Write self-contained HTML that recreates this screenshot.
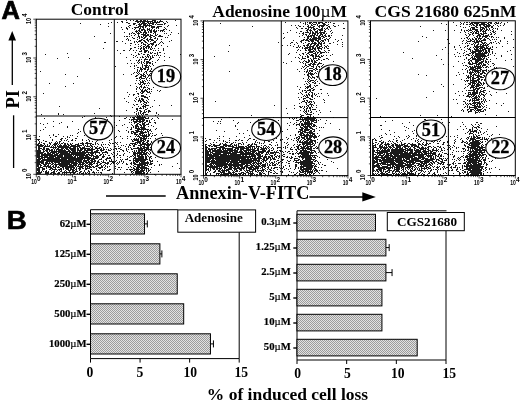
<!DOCTYPE html><html><head><meta charset="utf-8"><style>html,body{margin:0;padding:0;background:#fff}svg{display:block;filter:grayscale(1)}text{font-family:"Liberation Serif",serif;font-weight:bold;fill:#000}.s{font-family:"Liberation Sans",sans-serif}.t{font-family:"Liberation Sans",sans-serif;font-weight:bold;font-size:7.8px;fill:#000}</style></head><body><svg width="520" height="402" viewBox="0 0 520 402"><defs><pattern id="h" width="2" height="2" patternUnits="userSpaceOnUse"><rect width="2" height="2" fill="#e2e2e2"/><rect width="1" height="1" fill="#9c9c9c"/><rect x="1" y="1" width="1" height="1" fill="#9c9c9c"/></pattern></defs><rect width="520" height="402" fill="#fff"/><text x="1.4" y="19.1" font-size="25.2" textLength="18.4" lengthAdjust="spacingAndGlyphs" class="s" stroke="#000" stroke-width="0.7">A</text><text x="6.7" y="228.7" font-size="25.2" textLength="20" lengthAdjust="spacingAndGlyphs" class="s" stroke="#000" stroke-width="0.6">B</text><text x="70.8" y="14.9" font-size="17.6" textLength="57.7" lengthAdjust="spacingAndGlyphs">Control</text><text x="212.3" y="16.7" font-size="17.6" textLength="134.7" lengthAdjust="spacingAndGlyphs">Adenosine 100<tspan font-weight="normal">µ</tspan>M</text><text x="374.5" y="17.1" font-size="17.6" textLength="141.8" lengthAdjust="spacingAndGlyphs">CGS 21680 625nM</text><text transform="translate(18.9,99.4) rotate(-90)" font-size="18.3" text-anchor="middle">PI</text><path d="M12.3 85V39" stroke="#000" stroke-width="1.3" fill="none"/><path d="M12.2 31L8.4 40.5H16Z" fill="#000"/><path d="M13.6 115.3V168" stroke="#000" stroke-width="1.3" fill="none"/><text x="176" y="199.4" font-size="17.9" textLength="133.4" lengthAdjust="spacingAndGlyphs">Annexin-V-FITC</text><path d="M106 196H165.7" stroke="#000" stroke-width="1.5"/><path d="M309.4 196.9H363" stroke="#000" stroke-width="1.5"/><path d="M375.8 196.9L362.3 192.2V201.6Z" fill="#000"/><path d="M65 162h1M90 160h1M87 154h1M54 159h1M58 167h1M54 155h1M75 151h1M63 167h1M78 159h1M38 156h1M94 173h1M62 159h1M77 156h1M61 160h1M57 155h1M73 159h1M80 159h1M60 153h1M61 156h1M77 160h1M47 160h1M39 162h1M72 163h1M51 159h1M38 161h1M49 155h1M55 156h1M41 165h1M38 143h1M65 160h1M81 173h1M60 144h1M50 168h1M71 144h1M78 160h1M58 169h1M74 168h1M84 150h1M60 147h1M49 146h1M71 162h1M69 154h1M85 157h1M40 159h1M51 160h1M48 161h1M38 158h1M66 145h1M50 137h1M90 166h1M80 152h1M76 155h1M72 153h1M82 154h1M39 157h1M75 149h1M38 163h1M71 153h1M59 167h1M79 156h1M56 152h1M64 160h1M71 163h1M47 150h1M75 155h1M62 167h1M73 149h1M54 150h1M85 158h1M75 148h1M61 139h1M76 144h1M88 160h1M98 162h1M81 160h1M73 148h1M62 162h1M45 165h1M88 152h1M40 164h1M75 154h1M89 158h1M38 160h1M58 146h1M39 168h1M69 150h1M93 156h1M102 153h1M39 160h1M53 160h1M77 157h1M94 167h1M72 159h1M50 154h1M70 135h1M64 155h1M60 155h1M50 150h1M71 150h1M70 161h1M62 165h1M60 171h1M40 165h1M55 152h1M87 159h1M38 162h1M89 159h1M74 152h1M104 156h1M65 155h1M38 167h1M89 173h1M113 163h1M48 165h1M52 158h1M48 173h1M59 154h1M57 160h1M68 156h1M85 161h1M64 156h1M81 161h1M56 147h1M70 156h1M38 149h1M79 152h1M53 167h1M75 160h1M74 165h1M89 140h1M79 158h1M83 147h1M62 147h1M50 166h1M55 146h1M43 149h1M54 152h1M62 156h1M69 147h1M58 172h1M63 154h1M68 153h1M85 173h1M75 172h1M52 153h1M50 159h1M102 166h1M78 148h1M99 152h1M104 167h1M48 152h1M71 154h1M73 147h1M74 162h1M68 151h1M67 147h1M38 152h1M61 170h1M50 158h1M66 152h1M55 158h1M76 160h1M80 158h1M70 143h1M70 159h1M66 155h1M55 163h1M61 147h1M55 164h1M64 144h1M75 166h1M39 153h1M81 159h1M50 155h1M50 165h1M60 165h1M53 165h1M70 162h1M53 144h1M44 144h1M48 158h1M89 149h1M42 158h1M64 146h1M98 148h1M37 150h1M73 155h1M37 166h1M70 149h1M83 152h1M73 168h1M69 163h1M82 158h1M67 139h1M62 158h1M76 152h1M46 171h1M79 157h1M43 148h1M71 149h1M96 151h1M82 152h1M77 159h1M62 164h1M66 146h1M68 158h1M44 168h1M51 155h1M38 159h1M38 150h1M46 160h1M96 152h1M64 153h1M85 156h1M59 161h1M38 148h1M67 163h1M72 154h1M56 171h1M70 167h1M75 153h1M39 173h1M60 161h1M57 153h1M83 156h1M97 163h1M56 161h1M77 150h1M82 166h1M84 149h1M57 164h1M78 155h1M102 162h1M52 159h1M88 159h1M71 145h1M53 158h1M93 138h1M40 156h1M87 148h1M71 168h1M42 168h1M56 151h1M37 152h1M51 156h1M69 158h1M76 138h1M67 161h1M60 164h1M86 154h1M67 165h1M70 160h1M74 154h1M44 165h1M51 162h1M93 153h1M70 144h1M59 152h1M55 155h1M69 170h1M51 158h1M39 159h1M89 150h1M54 156h1M60 139h1M57 143h1M67 162h1M42 153h1M72 156h1M133 145h1M40 152h1M58 157h1M37 168h1M42 156h1M73 154h1M63 165h1M95 144h1M51 161h1M67 148h1M119 151h1M49 151h1M47 157h1M63 157h1M63 159h1M66 167h1M50 169h1M68 162h1M114 162h1M88 154h1M61 161h1M76 163h1M61 143h1M101 173h1M82 147h1M81 157h1M68 164h1M63 146h1M70 152h1M89 141h1M74 146h1M57 142h1M88 157h1M68 159h1M49 166h1M52 156h1M38 155h1M83 154h1M60 166h1M84 158h1M71 155h1M37 161h1M60 154h1M74 159h1M95 156h1M99 167h1M91 165h1M42 146h1M37 155h1M75 162h1M65 153h1M82 163h1M68 161h1M56 160h1M71 146h1M73 150h1M62 149h1M70 169h1M64 159h1M74 158h1M54 153h1M53 151h1M62 154h1M83 168h1M71 158h1M53 157h1M66 156h1M69 157h1M76 168h1M40 172h1M53 148h1M94 162h1M72 152h1M72 139h1M55 161h1M71 156h1M94 156h1M71 157h1M72 158h1M71 172h1M74 163h1M49 159h1M78 150h1M63 151h1M54 160h1M92 162h1M83 160h1M76 159h1M62 138h1M56 164h1M59 156h1M82 159h1M66 165h1M38 153h1M63 164h1M41 154h1M63 152h1M78 154h1M105 159h1M37 172h1M51 142h1M61 145h1M89 157h1M50 152h1M59 143h1M39 158h1M57 151h1M82 165h1M38 165h1M56 150h1M67 154h1M84 157h1M90 162h1M55 144h1M50 156h1M73 171h1M57 156h1M58 158h1M96 148h1M69 164h1M60 159h1M75 158h1M37 162h1M64 163h1M44 143h1M109 160h1M78 152h1M67 158h1M60 152h1M78 164h1M95 157h1M77 155h1M78 157h1M37 157h1M82 139h1M90 150h1M68 155h1M63 162h1M79 167h1M66 171h1M40 161h1M83 153h1M56 153h1M38 168h1M62 155h1M46 156h1M70 166h1M42 170h1M84 146h1M53 171h1M87 157h1M68 160h1M40 166h1M86 155h1M58 152h1M69 137h1M44 147h1M45 159h1M48 163h1M71 140h1M50 157h1M78 132h1M79 161h1M84 135h1M59 163h1M40 158h1M91 164h1M61 158h1M38 147h1M75 161h1M88 158h1M84 171h1M80 157h1M38 157h1M49 153h1M85 152h1M68 169h1M64 171h1M46 150h1M47 166h1M47 151h1M73 172h1M70 157h1M75 165h1M84 148h1M53 166h1M38 154h1M54 172h1M83 163h1M84 153h1M65 156h1M60 168h1M57 158h1M89 167h1M52 164h1M64 162h1M73 163h1M48 172h1M67 155h1M46 162h1M39 148h1M41 161h1M47 153h1M61 163h1M45 157h1M68 149h1M96 166h1M88 150h1M43 150h1M79 155h1M42 163h1M89 148h1M39 143h1M79 170h1M94 159h1M49 156h1M69 156h1M73 165h1M72 161h1M107 166h1M66 158h1M58 163h1M76 169h1M95 151h1M41 157h1M75 157h1M39 169h1M95 158h1M101 159h1M46 166h1M97 148h1M65 152h1M61 154h1M93 158h1M70 154h1M93 171h1M81 156h1M37 163h1M67 164h1M44 158h1M61 162h1M40 151h1M45 145h1M62 151h1M60 149h1M87 167h1M63 160h1M60 151h1M74 156h1M55 151h1M57 145h1M73 162h1M62 173h1M52 151h1M63 158h1M107 157h1M92 154h1M41 145h1M110 164h1M37 139h1M83 161h1M39 139h1M85 166h1M37 145h1M92 166h1M49 145h1M43 143h1M80 148h1M80 156h1M41 153h1M79 153h1M66 153h1M56 155h1M69 159h1M59 149h1M77 147h1M40 162h1M97 151h1M58 160h1M42 161h1M90 163h1M96 168h1M60 150h1M47 172h1M51 151h1M58 147h1M94 172h1M71 169h1M67 157h1M81 154h1M57 157h1M66 163h1M110 157h1M72 148h1M60 163h1M103 144h1M64 151h1M43 166h1M47 159h1M70 165h1M62 157h1M49 142h1M53 134h1M86 142h1M103 154h1M53 156h1M92 158h1M89 165h1M61 151h1M73 152h1M77 158h1M65 154h1M87 163h1M90 149h1M44 156h1M91 152h1M67 149h1M58 155h1M100 149h1M83 157h1M66 162h1M61 165h1M54 149h1M80 171h1M46 155h1M57 167h1M53 169h1M50 147h1M78 166h1M51 164h1M46 170h1M68 154h1M58 161h1M59 142h1M68 170h1M95 161h1M65 145h1M53 153h1M38 166h1M87 149h1M47 173h1M43 169h1M77 161h1M44 146h1M39 151h1M41 146h1M44 169h1M111 161h1M40 145h1M88 170h1M86 152h1M45 153h1M58 162h1M49 149h1M87 152h1M57 148h1M105 162h1M99 147h1M77 151h1M39 154h1M77 163h1M69 162h1M46 168h1M77 145h1M62 146h1M86 140h1M47 163h1M38 140h1M73 146h1M81 155h1M73 145h1M82 156h1M76 154h1M73 161h1M113 161h1M84 165h1M101 151h1M65 157h1M84 160h1M96 165h1M41 163h1M85 149h1M59 146h1M45 155h1M64 166h1M47 165h1M75 147h1M92 161h1M82 155h1M69 160h1M66 172h1M63 166h1M86 165h1M74 148h1M62 166h1M59 157h1M105 154h1M52 157h1M69 172h1M73 158h1M83 148h1M64 152h1M41 155h1M69 151h1M42 149h1M46 149h1M63 153h1M91 156h1M75 144h1M91 159h1M38 146h1M56 154h1M88 162h1M105 144h1M39 161h1M111 153h1M94 158h1M80 161h1M110 150h1M55 162h1M67 152h1M73 151h1M71 165h1M71 152h1M44 154h1M89 155h1M81 149h1M37 153h1M49 157h1M52 149h1M39 152h1M43 151h1M66 164h1M76 167h1M48 154h1M52 147h1M49 158h1M80 153h1M46 154h1M66 148h1M66 161h1M91 154h1M79 169h1M81 164h1M87 156h1M78 149h1M40 153h1M57 159h1M83 162h1M50 173h1M72 157h1M61 149h1M82 164h1M74 157h1M61 166h1M90 153h1M50 161h1M88 143h1M59 147h1M76 162h1M64 143h1M46 151h1M105 168h1M61 152h1M69 171h1M85 155h1M38 164h1M68 167h1M74 164h1M68 166h1M38 144h1M45 160h1M78 158h1M72 162h1M37 165h1M38 172h1M52 161h1M53 161h1M71 164h1M47 158h1M65 146h1M59 158h1M57 161h1M75 159h1M65 150h1M108 149h1M80 172h1M38 151h1M38 139h1M58 156h1M67 153h1M78 145h1M62 150h1M109 155h1M91 150h1M84 155h1M54 147h1M91 151h1M93 149h1M56 158h1M42 155h1M42 157h1M60 160h1M68 147h1M66 140h1M64 140h1M73 160h1M59 159h1M82 157h1M68 146h1M99 159h1M58 164h1M76 170h1M71 160h1M79 145h1M88 171h1M119 148h1M45 164h1M68 144h1M92 148h1M51 173h1M50 153h1M101 145h1M84 152h1M61 159h1M64 161h1M61 138h1M77 136h1M82 149h1M45 173h1M59 151h1M69 152h1M70 155h1M45 154h1M52 162h1M67 169h1M65 163h1M47 149h1M52 172h1M66 159h1M73 167h1M80 151h1M61 164h1M91 155h1M72 150h1M70 170h1M84 151h1M65 143h1M78 162h1M111 160h1M91 158h1M90 144h1M80 147h1M75 140h1M54 171h1M55 168h1M59 160h1M56 162h1M74 167h1M59 155h1M55 136h1M43 157h1M37 156h1M55 160h1M48 164h1M41 160h1M63 147h1M60 156h1M49 150h1M89 134h1M96 157h1M54 161h1M101 172h1M73 157h1M79 151h1M97 162h1M66 169h1M71 159h1M52 168h1M57 154h1M111 163h1M56 159h1M51 149h1M53 135h1M39 167h1M70 158h1M41 142h1M63 142h1M50 160h1M55 147h1M77 154h1M39 156h1M47 152h1M43 147h1M61 155h1M78 143h1M103 165h1M98 156h1M53 155h1M65 151h1M81 145h1M43 155h1M75 163h1M64 164h1M75 150h1M101 167h1M63 148h1M63 163h1M91 163h1M70 148h1M48 167h1M61 140h1M70 151h1M63 145h1M56 165h1M47 148h1M39 150h1M47 162h1M105 151h1M62 152h1M59 173h1M56 157h1M99 153h1M46 157h1M49 160h1M85 164h1M94 151h1M54 151h1M60 145h1M37 154h1M86 148h1M55 148h1M65 159h1M83 151h1M59 170h1M38 171h1M85 160h1M67 166h1M58 148h1M47 154h1M39 142h1M61 146h1M43 160h1M77 166h1M72 135h1M78 153h1M56 149h1M58 166h1M79 164h1M69 153h1M87 142h1M88 153h1M70 172h1M89 161h1M86 163h1M51 157h1M37 159h1M106 158h1M45 163h1M76 153h1M96 150h1M54 143h1M65 161h1M57 149h1M59 150h1M95 147h1M87 160h1M87 146h1M43 162h1M43 159h1M42 154h1M52 160h1M89 162h1M75 152h1M44 159h1M66 160h1M67 156h1M44 160h1M55 145h1M84 154h1M76 164h1M37 151h1M41 152h1M54 154h1M76 146h1M92 153h1M90 164h1M86 173h1M76 161h1M109 157h1M91 149h1M96 156h1M59 165h1M97 140h1M90 167h1M47 161h1M79 150h1M55 166h1M76 171h1M91 162h1M64 150h1M100 163h1M71 167h1M47 156h1M90 155h1M73 170h1M74 170h1M37 170h1M42 152h1M46 163h1M48 146h1M77 153h1M67 137h1M75 164h1M63 150h1M68 141h1M51 152h1M84 159h1M56 144h1M55 154h1M72 140h1M79 173h1M97 161h1M79 160h1M65 148h1M48 149h1M64 165h1M87 162h1M61 169h1M86 156h1M80 150h1M114 146h1M80 166h1M83 158h1M68 168h1M80 165h1M48 157h1M72 151h1M41 162h1M51 167h1M68 150h1M44 148h1M55 142h1M70 147h1M67 160h1M94 149h1M41 167h1M64 149h1M64 154h1M46 159h1M77 149h1M58 150h1M92 137h1M76 165h1M72 165h1M40 167h1M72 167h1M42 159h1M100 164h1M58 159h1M84 147h1M41 158h1M43 164h1M98 157h1M65 158h1M76 158h1M45 150h1M58 149h1M95 154h1M56 141h1M88 164h1M80 154h1M62 161h1M93 161h1M90 157h1M51 150h1M52 155h1M77 173h1M61 157h1M42 160h1M74 173h1M44 166h1M118 163h1M63 169h1M39 141h1M65 147h1M46 146h1M39 149h1M56 143h1M52 154h1M69 148h1M96 158h1M67 143h1M82 167h1M43 161h1M74 153h1M41 156h1M87 165h1M82 151h1M66 157h1M69 165h1M103 155h1M74 149h1M45 141h1M48 155h1M79 172h1M52 152h1M64 157h1M56 136h1M122 159h1M40 150h1M45 156h1M44 157h1M59 169h1M54 167h1M93 163h1M69 166h1M49 169h1M38 169h1M46 167h1M48 159h1M48 153h1M39 146h1M85 168h1M100 154h1M44 151h1M68 163h1M81 150h1M103 147h1M70 164h1M65 170h1M94 161h1M83 155h1M79 168h1M50 144h1M94 152h1M86 168h1M51 146h1M79 162h1M65 164h1M89 164h1M62 153h1M41 148h1M107 170h1M75 146h1M93 159h1M87 151h1M54 145h1M69 145h1M71 148h1M60 157h1M44 164h1M73 153h1M80 164h1M79 147h1M72 149h1M86 150h1M53 159h1M63 161h1M62 148h1M114 155h1M85 162h1M89 152h1M39 136h1M66 166h1M65 166h1M104 149h1M82 140h1M58 153h1M66 154h1M63 136h1M96 169h1M88 146h1M50 163h1M67 146h1M39 163h1M114 153h1M92 160h1M85 148h1M65 167h1M79 159h1M103 149h1M46 141h1M100 159h1M86 162h1M73 169h1M86 166h1M118 146h1M82 148h1M79 163h1M106 149h1M69 161h1M87 155h1M80 145h1M49 154h1M85 153h1M74 160h1M62 172h1M96 172h1M53 147h1M77 152h1M94 146h1M66 173h1M88 156h1M66 151h1M85 167h1M78 165h1M64 158h1M86 160h1M67 151h1M97 164h1M39 155h1M44 155h1M48 171h1M60 146h1M49 163h1M67 136h1M57 162h1M54 173h1M116 149h1M90 147h1M52 163h1M74 147h1M60 141h1M98 172h1M82 144h1M46 164h1M38 145h1M83 166h1M72 166h1M47 155h1M54 169h1M87 158h1M69 155h1M43 140h1M62 163h1M39 145h1M85 145h1M80 160h1M54 158h1M56 166h1M81 166h1M55 173h1M59 162h1M110 169h1M68 157h1M70 168h1M55 159h1M87 145h1M42 145h1M38 170h1M51 170h1M88 173h1M62 160h1M55 165h1M85 172h1M43 154h1M45 172h1M72 145h1M55 157h1M37 169h1M58 173h1M74 150h1M53 172h1M66 147h1M78 168h1M52 150h1M80 162h1M43 152h1M46 172h1M72 169h1M77 144h1M65 144h1M93 144h1M67 172h1M113 143h1M81 153h1M70 146h1M53 152h1M37 173h1M81 143h1M108 155h1M40 173h1M53 163h1M81 158h1M57 146h1M52 145h1M80 155h1M80 163h1M40 144h1M43 171h1M90 143h1M82 173h1M41 172h1M73 164h1M95 143h1M50 143h1M61 171h1M53 146h1M39 164h1M78 161h1M91 161h1M98 152h1M83 164h1M51 172h1M86 143h1M92 172h1M98 161h1M70 173h1M98 170h1M47 145h1M54 164h1M41 144h1M48 166h1M39 147h1M87 172h1M52 169h1M88 166h1M61 148h1M55 169h1M99 164h1M100 147h1M53 173h1M52 166h1M44 149h1M103 150h1M94 163h1M51 168h1M39 171h1M92 159h1M132 173h1M92 149h1M85 169h1M93 155h1M80 169h1M74 172h1M82 168h1M75 169h1M93 172h1M73 173h1M62 143h1M51 147h1M72 160h1M58 144h1M97 146h1M66 149h1M86 169h1M59 172h1M72 146h1M67 167h1M78 146h1M79 154h1M83 172h1M87 143h1M81 152h1M120 147h1M64 173h1M44 153h1M84 170h1M103 157h1M85 143h1M91 146h1M73 166h1M61 153h1M72 172h1M46 148h1M105 152h1M42 167h1M50 167h1M42 169h1M40 148h1M61 150h1M79 146h1M60 169h1M56 169h1M74 151h1M68 172h1M71 166h1M41 171h1M81 171h1M59 145h1M98 160h1M47 144h1M80 143h1M91 169h1M66 168h1M81 162h1M39 170h1M45 166h1M40 146h1M80 167h1M43 168h1M48 148h1M87 166h1M64 147h1M61 168h1M45 162h1M38 173h1M77 146h1M87 144h1M54 170h1M81 167h1M98 165h1M101 158h1M83 145h1M65 165h1M115 146h1M49 161h1M97 165h1M37 164h1M92 147h1M81 148h1M64 172h1M42 162h1M84 163h1M83 173h1M77 148h1M48 160h1M37 144h1M49 167h1M72 171h1M100 167h1M43 163h1M64 145h1M45 171h1M67 144h1M98 150h1M71 161h1M84 161h1M87 168h1M63 168h1M49 143h1M47 146h1M101 161h1M83 144h1M54 162h1M101 144h1M75 145h1M103 152h1M46 173h1M112 162h1M68 145h1M99 148h1M77 171h1M111 149h1M59 164h1M55 167h1M78 144h1M80 149h1M72 170h1M57 173h1M120 149h1M46 161h1M57 170h1M43 145h1M110 148h1M39 172h1M74 145h1M58 151h1M75 156h1M75 171h1M45 146h1M82 143h1M103 161h1M97 166h1M65 172h1M101 148h1M63 172h1M37 160h1M55 143h1M67 168h1M65 168h1M54 144h1M89 171h1M51 154h1M91 143h1M69 167h1M49 162h1M72 143h1M79 166h1M95 148h1M97 150h1M109 145h1M92 155h1M107 152h1M146 163h1M108 150h1M108 158h1M86 158h1M107 147h1M113 152h1M96 163h1M106 151h1M82 153h1M104 162h1M92 151h1M111 159h1M109 140h1M139 142h1M118 130h1M117 157h1M117 151h1M124 153h1M88 148h1M102 167h1M107 163h1M106 152h1M112 173h1M105 165h1M85 165h1M92 150h1M102 142h1M95 152h1M95 142h1M99 168h1M80 168h1M83 143h1M113 149h1M89 154h1M86 161h1M97 152h1M99 155h1M115 161h1M97 155h1M103 156h1M89 146h1M109 142h1M112 161h1M107 167h1M120 169h1M104 164h1M103 148h1M106 159h1M95 153h1M109 170h1M88 161h1M82 162h1M93 129h1M109 169h1M129 157h1M101 163h1M92 146h1M96 155h1M104 152h1M89 143h1M110 161h1M113 162h1M115 142h1M115 148h1M86 151h1M119 162h1M105 147h1M92 152h1M108 170h1M102 146h1M100 172h1M103 160h1M109 158h1M87 150h1M120 157h1M96 141h1M91 148h1M102 150h1M86 157h1M117 154h1M89 172h1M132 143h1M91 170h1M126 150h1M102 156h1M89 166h1M88 149h1M129 160h1M97 158h1M92 164h1M116 160h1M91 160h1M89 163h1M82 142h1M93 152h1M92 141h1M91 167h1M89 168h1M117 142h1M88 139h1M114 157h1M97 157h1M109 161h1M102 157h1M110 143h1M86 146h1M97 149h1M101 149h1M98 144h1M85 150h1M116 143h1M122 163h1M101 165h1M108 144h1M88 168h1M97 170h1M91 153h1M93 131h1M102 152h1M142 149h1M140 140h1M133 159h1M127 136h1M142 173h1M135 139h1M146 124h1M136 168h1M141 159h1M144 149h1M143 124h1M140 165h1M152 135h1M140 131h1M143 160h1M139 169h1M146 168h1M156 134h1M147 173h1M142 166h1M146 129h1M135 172h1M139 129h1M144 163h1M129 144h1M132 133h1M156 140h1M142 116h1M126 169h1M140 127h1M148 131h1M161 155h1M139 154h1M133 168h1M141 152h1M130 163h1M140 146h1M137 124h1M147 163h1M137 129h1M140 160h1M148 140h1M129 122h1M136 150h1M122 138h1M149 134h1M137 141h1M140 159h1M142 154h1M145 159h1M144 143h1M141 144h1M146 156h1M143 166h1M151 142h1M139 124h1M145 156h1M145 157h1M138 136h1M136 117h1M146 147h1M150 138h1M139 162h1M147 152h1M140 150h1M143 125h1M145 155h1M127 127h1M139 155h1M150 147h1M136 120h1M144 170h1M148 162h1M149 145h1M136 138h1M147 121h1M138 130h1M141 132h1M137 173h1M134 138h1M138 135h1M139 157h1M132 119h1M148 148h1M149 159h1M147 131h1M141 154h1M138 153h1M141 155h1M141 151h1M143 121h1M143 146h1M142 120h1M137 126h1M133 167h1M142 138h1M140 135h1M144 173h1M137 155h1M142 131h1M143 137h1M143 154h1M143 172h1M154 165h1M145 132h1M140 122h1M141 156h1M141 164h1M141 125h1M141 166h1M141 127h1M146 167h1M154 135h1M143 171h1M143 139h1M148 133h1M133 161h1M142 150h1M143 144h1M144 124h1M137 170h1M138 160h1M133 117h1M138 145h1M131 139h1M145 150h1M140 129h1M135 140h1M148 150h1M141 170h1M136 148h1M133 132h1M138 172h1M131 122h1M141 117h1M148 141h1M132 144h1M144 127h1M142 143h1M145 162h1M139 131h1M147 162h1M141 172h1M140 167h1M143 150h1M139 165h1M139 137h1M138 171h1M136 171h1M137 119h1M134 133h1M143 135h1M142 152h1M131 171h1M138 173h1M141 126h1M135 159h1M143 126h1M138 157h1M136 128h1M152 145h1M141 158h1M152 163h1M148 170h1M141 141h1M141 173h1M136 173h1M130 147h1M140 142h1M144 123h1M141 140h1M135 136h1M133 118h1M131 120h1M149 144h1M144 169h1M139 148h1M137 123h1M133 170h1M142 122h1M136 162h1M139 171h1M145 147h1M143 133h1M134 146h1M142 129h1M143 148h1M143 142h1M141 133h1M143 117h1M137 136h1M142 156h1M136 122h1M138 151h1M137 142h1M143 118h1M138 161h1M145 149h1M137 168h1M142 167h1M152 118h1M146 152h1M136 172h1M135 134h1M137 143h1M131 164h1M130 160h1M144 153h1M143 173h1M140 170h1M148 156h1M142 161h1M137 171h1M135 169h1M136 161h1M140 137h1M141 150h1M158 147h1M138 159h1M144 172h1M141 130h1M142 124h1M150 152h1M139 122h1M144 146h1M146 134h1M137 140h1M126 163h1M138 129h1M150 130h1M147 118h1M143 119h1M147 144h1M134 118h1M137 132h1M142 162h1M133 158h1M142 118h1M141 135h1M135 153h1M138 128h1M142 132h1M135 133h1M137 172h1M148 168h1M154 174h1M131 148h1M151 161h1M142 128h1M137 159h1M145 158h1M143 140h1M146 121h1M136 125h1M127 164h1M144 162h1M177 163h1M145 151h1M139 156h1M141 148h1M146 142h1M150 169h1M147 143h1M149 170h1M138 149h1M139 164h1M138 117h1M148 135h1M138 147h1M133 162h1M141 121h1M147 140h1M143 123h1M157 151h1M130 117h1M144 147h1M155 135h1M141 137h1M142 157h1M139 141h1M136 127h1M142 134h1M144 134h1M150 160h1M150 150h1M140 141h1M141 153h1M148 169h1M147 165h1M148 134h1M137 131h1M151 167h1M139 145h1M135 152h1M139 173h1M137 139h1M138 141h1M146 120h1M137 169h1M138 155h1M154 152h1M149 135h1M148 124h1M129 119h1M131 124h1M150 129h1M142 158h1M126 149h1M158 118h1M139 158h1M130 166h1M143 127h1M136 153h1M148 136h1M146 157h1M140 125h1M144 164h1M141 157h1M142 171h1M150 143h1M136 140h1M128 131h1M139 143h1M133 127h1M136 160h1M148 171h1M143 161h1M140 148h1M146 153h1M142 136h1M150 144h1M136 164h1M136 151h1M144 144h1M147 149h1M131 119h1M142 164h1M144 132h1M141 129h1M137 147h1M148 149h1M137 117h1M149 149h1M137 134h1M134 134h1M161 133h1M134 164h1M134 132h1M146 162h1M135 144h1M130 145h1M136 130h1M144 125h1M145 143h1M131 133h1M136 126h1M161 153h1M140 153h1M144 126h1M144 141h1M145 117h1M138 166h1M136 169h1M136 131h1M152 160h1M140 134h1M148 166h1M136 170h1M142 121h1M144 137h1M152 161h1M137 152h1M143 136h1M138 165h1M139 118h1M145 153h1M148 123h1M139 152h1M137 121h1M141 162h1M123 161h1M144 154h1M146 173h1M144 167h1M151 136h1M144 138h1M138 140h1M139 133h1M140 139h1M144 145h1M133 172h1M137 148h1M161 164h1M136 132h1M131 132h1M135 126h1M146 145h1M134 162h1M141 119h1M150 133h1M150 172h1M135 164h1M146 135h1M137 161h1M136 144h1M149 151h1M154 120h1M130 129h1M136 121h1M146 118h1M147 147h1M156 155h1M133 119h1M126 130h1M131 127h1M145 144h1M138 156h1M155 122h1M144 116h1M143 170h1M137 116h1M138 158h1M139 119h1M145 160h1M140 152h1M147 142h1M139 150h1M135 119h1M121 145h1M148 144h1M145 136h1M143 147h1M140 121h1M142 127h1M135 148h1M149 154h1M144 136h1M146 154h1M147 155h1M141 145h1M140 132h1M140 124h1M131 131h1M142 168h1M149 120h1M142 135h1M151 163h1M143 132h1M143 162h1M132 141h1M155 129h1M139 121h1M145 165h1M140 147h1M132 155h1M145 138h1M146 171h1M135 166h1M127 138h1M135 130h1M136 124h1M135 157h1M139 163h1M135 125h1M151 125h1M140 164h1M134 150h1M131 169h1M142 133h1M135 116h1M145 139h1M128 132h1M148 153h1M123 145h1M139 136h1M142 170h1M134 139h1M140 154h1M144 150h1M138 139h1M144 129h1M140 161h1M133 154h1M129 169h1M136 167h1M138 121h1M141 174h1M136 142h1M143 157h1M138 118h1M143 164h1M143 138h1M145 135h1M139 120h1M135 132h1M145 164h1M130 169h1M137 162h1M138 126h1M137 153h1M142 140h1M141 163h1M144 165h1M132 125h1M147 172h1M150 153h1M143 128h1M147 120h1M147 145h1M140 172h1M151 141h1M132 171h1M144 117h1M133 148h1M125 118h1M138 127h1M135 121h1M134 144h1M136 139h1M137 130h1M148 143h1M135 156h1M137 158h1M140 168h1M139 128h1M146 132h1M138 169h1M151 156h1M141 147h1M133 165h1M137 164h1M133 120h1M134 157h1M140 145h1M149 160h1M131 174h1M144 122h1M136 158h1M155 123h1M135 127h1M143 158h1M134 117h1M140 133h1M137 125h1M148 118h1M134 119h1M138 168h1M140 116h1M132 169h1M141 167h1M145 140h1M150 122h1M140 143h1M144 160h1M148 129h1M134 168h1M135 173h1M159 164h1M132 131h1M145 125h1M135 122h1M148 138h1M144 151h1M133 152h1M140 171h1M150 149h1M152 151h1M149 164h1M136 119h1M144 120h1M146 149h1M143 168h1M136 159h1M144 135h1M133 156h1M139 117h1M140 156h1M133 153h1M135 142h1M149 158h1M144 168h1M138 152h1M132 140h1M119 120h1M141 131h1M147 141h1M139 172h1M155 138h1M133 139h1M144 159h1M147 124h1M131 129h1M149 121h1M147 168h1M138 138h1M134 166h1M151 131h1M154 122h1M133 126h1M142 119h1M143 141h1M131 167h1M145 154h1M142 165h1M147 136h1M137 120h1M147 148h1M149 157h1M145 122h1M149 130h1M144 166h1M146 169h1M140 120h1M146 138h1M134 145h1M145 163h1M133 141h1M137 128h1M127 159h1M142 169h1M145 131h1M138 142h1M142 123h1M142 142h1M146 174h1M150 157h1M151 119h1M139 116h1M130 136h1M146 165h1M144 139h1M146 144h1M133 163h1M155 157h1M134 121h1M147 146h1M179 168h1M140 149h1M141 139h1M142 160h1M147 129h1M145 168h1M140 144h1M138 131h1M140 118h1M134 160h1M143 163h1M142 151h1M131 156h1M146 148h1M133 121h1M134 122h1M144 148h1M126 117h1M133 146h1M129 145h1M133 143h1M143 130h1M142 163h1M142 144h1M136 135h1M137 165h1M151 164h1M138 116h1M135 128h1M134 151h1M134 123h1M147 130h1M143 129h1M137 154h1M138 150h1M134 153h1M148 126h1M134 148h1M164 142h1M128 149h1M139 134h1M112 143h1M145 167h1M146 136h1M138 167h1M133 160h1M141 128h1M148 147h1M119 161h1M144 128h1M148 163h1M134 155h1M141 168h1M143 152h1M148 117h1M134 143h1M153 126h1M141 169h1M131 128h1M141 138h1M149 122h1M145 129h1M140 119h1M135 171h1M163 144h1M142 148h1M151 158h1M152 147h1M139 159h1M141 149h1M137 166h1M137 118h1M134 154h1M134 170h1M145 128h1M135 163h1M142 159h1M135 161h1M139 149h1M136 134h1M159 165h1M128 147h1M141 171h1M146 159h1M138 123h1M140 157h1M146 170h1M140 173h1M137 167h1M109 150h1M146 150h1M150 164h1M150 161h1M144 152h1M139 153h1M135 160h1M135 158h1M140 138h1M138 148h1M141 160h1M143 167h1M147 161h1M142 155h1M131 149h1M122 150h1M138 164h1M141 161h1M139 151h1M147 164h1M139 166h1M139 160h1M134 140h1M144 161h1M131 172h1M141 165h1M127 169h1M146 158h1M133 131h1M130 156h1M147 159h1M116 155h1M143 153h1M134 152h1M150 163h1M139 167h1M150 162h1M148 146h1M130 170h1M132 149h1M148 132h1M143 156h1M142 146h1M131 163h1M148 145h1M140 158h1M138 170h1M143 143h1M140 163h1M137 156h1M162 158h1M110 158h1M135 143h1M143 159h1M150 156h1M144 72h1M141 99h1M147 98h1M141 118h1M138 119h1M139 98h1M147 91h1M137 104h1M140 86h1M143 87h1M144 60h1M144 78h1M136 99h1M140 76h1M136 75h1M133 94h1M134 112h1M141 90h1M133 95h1M141 96h1M149 96h1M145 96h1M143 105h1M153 87h1M139 77h1M136 104h1M148 102h1M150 111h1M148 105h1M151 69h1M155 62h1M150 62h1M141 86h1M142 81h1M141 91h1M157 90h1M141 82h1M140 101h1M148 111h1M152 106h1M144 111h1M138 101h1M143 81h1M144 84h1M143 108h1M145 69h1M149 111h1M145 105h1M149 80h1M147 63h1M150 75h1M141 77h1M142 90h1M149 83h1M137 69h1M138 83h1M150 93h1M147 70h1M139 100h1M138 96h1M140 107h1M150 73h1M144 101h1M144 97h1M142 98h1M140 83h1M138 106h1M140 81h1M151 74h1M149 74h1M149 78h1M141 85h1M140 117h1M134 94h1M149 91h1M143 92h1M137 73h1M136 76h1M147 87h1M143 73h1M141 104h1M137 108h1M145 81h1M140 108h1M138 60h1M142 100h1M147 74h1M149 89h1M126 101h1M141 70h1M144 76h1M128 102h1M141 74h1M152 76h1M145 90h1M145 106h1M135 76h1M152 64h1M146 63h1M144 68h1M145 107h1M137 110h1M150 107h1M144 110h1M146 109h1M146 114h1M146 91h1M143 82h1M136 86h1M145 97h1M142 99h1M148 82h1M155 74h1M158 114h1M142 65h1M138 74h1M144 119h1M162 86h1M140 113h1M143 83h1M146 85h1M145 109h1M138 100h1M147 69h1M143 68h1M136 111h1M143 99h1M146 111h1M140 67h1M134 105h1M140 74h1M146 100h1M143 106h1M123 74h1M148 66h1M146 65h1M142 64h1M143 113h1M143 101h1M136 88h1M115 66h1M143 120h1M150 70h1M151 91h1M128 96h1M136 97h1M147 101h1M146 78h1M136 114h1M148 68h1M145 76h1M148 88h1M139 80h1M142 82h1M140 102h1M146 73h1M144 65h1M143 91h1M146 94h1M140 92h1M141 63h1M146 103h1M137 109h1M139 88h1M141 76h1M148 92h1M134 100h1M146 72h1M146 62h1M140 69h1M145 75h1M147 67h1M147 92h1M144 86h1M159 91h1M151 71h1M142 106h1M151 89h1M145 65h1M146 64h1M144 87h1M139 62h1M145 118h1M148 75h1M146 90h1M145 68h1M132 107h1M137 115h1M143 75h1M140 79h1M144 106h1M138 61h1M135 83h1M148 69h1M147 114h1M142 95h1M148 76h1M147 83h1M136 72h1M142 78h1M136 91h1M148 99h1M148 67h1M142 89h1M147 77h1M145 114h1M146 102h1M143 103h1M149 60h1M151 76h1M142 92h1M144 80h1M139 87h1M143 88h1M139 71h1M140 110h1M151 77h1M133 104h1M147 62h1M136 109h1M144 69h1M138 114h1M145 102h1M165 85h1M129 94h1M145 66h1M130 85h1M149 71h1M142 115h1M141 75h1M146 61h1M143 78h1M144 102h1M140 111h1M145 87h1M144 83h1M147 108h1M143 74h1M139 108h1M141 111h1M146 79h1M142 113h1M135 98h1M145 89h1M139 78h1M140 84h1M135 101h1M144 90h1M140 89h1M147 61h1M137 67h1M147 89h1M142 96h1M159 105h1M147 105h1M138 93h1M143 96h1M146 97h1M143 76h1M150 71h1M145 104h1M151 68h1M156 112h1M143 114h1M146 71h1M140 100h1M141 101h1M137 78h1M139 115h1M145 67h1M155 84h1M141 61h1M141 78h1M144 112h1M149 110h1M132 117h1M142 75h1M142 84h1M148 110h1M148 62h1M137 87h1M153 76h1M139 110h1M145 83h1M140 82h1M138 113h1M136 89h1M144 63h1M144 74h1M137 93h1M137 70h1M143 107h1M141 95h1M148 112h1M139 84h1M151 73h1M144 104h1M141 98h1M146 105h1M143 95h1M154 83h1M141 93h1M142 66h1M126 110h1M141 114h1M141 108h1M136 113h1M144 96h1M141 87h1M139 99h1M163 65h1M143 112h1M138 72h1M141 71h1M140 68h1M150 63h1M145 77h1M142 117h1M131 63h1M138 112h1M145 71h1M164 86h1M149 75h1M138 94h1M140 112h1M136 108h1M138 63h1M142 80h1M142 93h1M136 78h1M149 65h1M148 85h1M134 68h1M137 75h1M141 62h1M145 26h1M141 47h1M151 25h1M138 30h1M146 25h1M146 39h1M141 29h1M135 34h1M138 21h1M156 27h1M133 73h1M133 50h1M147 55h1M150 22h1M117 41h1M148 29h1M133 38h1M148 41h1M94 36h1M139 36h1M140 40h1M148 46h1M149 63h1M146 32h1M167 26h1M138 41h1M145 47h1M142 67h1M144 51h1M149 29h1M139 70h1M150 58h1M143 47h1M146 21h1M144 48h1M156 30h1M134 29h1M149 21h1M127 92h1M147 46h1M139 37h1M148 48h1M148 32h1M154 48h1M152 24h1M152 43h1M159 21h1M142 39h1M156 40h1M152 28h1M161 39h1M137 57h1M154 22h1M145 45h1M158 27h1M142 23h1M163 43h1M142 34h1M144 61h1M134 24h1M122 29h1M151 27h1M153 65h1M145 20h1M133 23h1M138 33h1M159 52h1M144 38h1M180 54h1M139 21h1M155 46h1M129 25h1M157 24h1M153 44h1M148 57h1M138 24h1M144 34h1M163 30h1M139 33h1M130 43h1M151 46h1M159 36h1M152 44h1M135 23h1M154 36h1M150 36h1M167 22h1M152 27h1M157 26h1M135 52h1M153 26h1M153 31h1M146 23h1M140 28h1M151 39h1M142 21h1M150 59h1M145 58h1M134 65h1M136 65h1M136 50h1M122 22h1M152 35h1M150 31h1M159 43h1M141 40h1M148 54h1M151 31h1M155 22h1M144 49h1M158 24h1M176 25h1M143 22h1M153 27h1M156 44h1M145 42h1M149 55h1M135 27h1M136 41h1M157 60h1M170 34h1M139 73h1M150 57h1M149 28h1M132 37h1M147 25h1M136 25h1M140 32h1M145 36h1M133 33h1M138 27h1M148 25h1M148 61h1M149 46h1M144 22h1M141 26h1M154 30h1M144 59h1M149 25h1M145 25h1M144 35h1M144 29h1M151 21h1M151 47h1M154 29h1M138 26h1M151 37h1M161 26h1M147 40h1M145 41h1M150 35h1M143 34h1M130 40h1M145 33h1M150 34h1M141 34h1M133 20h1M134 42h1M143 48h1M147 59h1M139 60h1M147 30h1M139 24h1M162 31h1M140 77h1M144 40h1M162 30h1M155 35h1M144 50h1M158 22h1M136 30h1M137 37h1M141 23h1M164 60h1M143 20h1M148 21h1M155 21h1M161 41h1M142 57h1M127 29h1M134 27h1M139 30h1M137 27h1M149 62h1M147 34h1M156 35h1M160 20h1M153 43h1M136 80h1M148 51h1M135 31h1M152 45h1M135 44h1M152 21h1M154 20h1M153 42h1M159 35h1M127 22h1M146 33h1M154 42h1M141 32h1M151 30h1M155 24h1M157 34h1M134 72h1M155 32h1M143 33h1M163 49h1M147 35h1M158 36h1M146 48h1M151 32h1M141 68h1M141 39h1M146 46h1M140 20h1M142 27h1M161 45h1M152 23h1M141 50h1M160 26h1M128 23h1M134 66h1M141 45h1M161 24h1M147 38h1M148 45h1M150 23h1M140 31h1M153 36h1M126 27h1M150 38h1M120 53h1M163 22h1M144 32h1M150 39h1M141 37h1M155 45h1M153 24h1M150 41h1M148 34h1M140 24h1M145 32h1M135 28h1M103 48h1M154 27h1M146 35h1M143 25h1M134 33h1M158 26h1M137 21h1M155 41h1M167 46h1M175 20h1M136 60h1M138 46h1M144 30h1M146 51h1M151 23h1M129 23h1M160 21h1M166 21h1M128 39h1M147 43h1M140 26h1M136 21h1M164 31h1M132 28h1M141 53h1M150 30h1M146 26h1M140 48h1M164 53h1M143 24h1M131 48h1M143 28h1M162 36h1M152 20h1M156 22h1M126 57h1M163 29h1M129 34h1M143 27h1M151 49h1M136 27h1M154 32h1M140 25h1M147 21h1M160 35h1M154 55h1M147 65h1M157 27h1M141 21h1M158 28h1M89 58h1M149 59h1M134 38h1M155 53h1M140 27h1M147 24h1M141 20h1M142 30h1M148 31h1M142 56h1M141 42h1M155 34h1M139 23h1M144 91h1M151 58h1M158 44h1M135 56h1M143 26h1M146 36h1M150 52h1M141 36h1M147 80h1M129 33h1M157 21h1M153 23h1M158 30h1M149 39h1M138 32h1M137 39h1M149 47h1M133 24h1M151 35h1M160 55h1M153 20h1M108 26h1M145 30h1M131 43h1M152 48h1M144 23h1M161 36h1M149 30h1M130 48h1M148 52h1M145 34h1M137 22h1M136 20h1M125 43h1M143 29h1M156 23h1M152 63h1M161 30h1M145 37h1M143 49h1M158 55h1M136 55h1M140 57h1M145 52h1M145 59h1M147 45h1M143 36h1M156 55h1M165 37h1M128 26h1M137 20h1M154 21h1M153 50h1M138 44h1M131 35h1M153 30h1M139 26h1M139 51h1M148 44h1M150 25h1M156 31h1M160 36h1M134 47h1M130 25h1M135 47h1M169 41h1M164 29h1M142 69h1M166 33h1M123 50h1M148 35h1M129 27h1M142 37h1M160 42h1M131 33h1M129 50h1M143 21h1M146 67h1M151 29h1M144 20h1M142 29h1M151 26h1M149 26h1M148 23h1M142 22h1M155 20h1M150 56h1M139 28h1M121 21h1M165 23h1M143 40h1M144 41h1M138 36h1M158 48h1M168 35h1M140 41h1M134 63h1M157 39h1M147 50h1M132 32h1M156 28h1M155 31h1M164 23h1M124 32h1M147 28h1M124 36h1M143 35h1M139 54h1M153 40h1M126 20h1M147 20h1M137 31h1M146 42h1M169 30h1M161 21h1M141 24h1M154 53h1M100 24h1M145 23h1M145 50h1M159 24h1M143 44h1M149 44h1M147 39h1M116 41h1M144 31h1M137 42h1M137 62h1M139 31h1M162 24h1M117 22h1M144 54h1M154 26h1M145 24h1M146 66h1M160 52h1M154 31h1M141 43h1M149 36h1M147 22h1M162 42h1M171 40h1M141 30h1M150 32h1M155 33h1M145 51h1M178 33h1M134 23h1M140 51h1M164 27h1M148 56h1M171 32h1M131 74h1M151 40h1M142 42h1M151 53h1M155 37h1M140 21h1M138 35h1M141 51h1M163 48h1M152 39h1M150 21h1M155 50h1M160 30h1M138 54h1M142 26h1M140 22h1M141 48h1M159 26h1M138 48h1M154 38h1M152 22h1M151 44h1M139 41h1M155 42h1M110 33h1M148 22h1M141 59h1M144 46h1M152 61h1M156 45h1M166 29h1M162 21h1M144 52h1M122 41h1M153 33h1M139 40h1M130 20h1M157 52h1M158 50h1M150 43h1M139 38h1M133 55h1M141 69h1M168 25h1M154 41h1M138 34h1M126 39h1M147 56h1M137 33h1M105 42h1M160 24h1M139 29h1M143 46h1M150 49h1M155 38h1M157 22h1M167 37h1M145 21h1M127 36h1M139 25h1M148 40h1M149 23h1M144 25h1M169 57h1M143 62h1M145 31h1M137 71h1M153 22h1M143 23h1M144 37h1M138 67h1M146 59h1M138 22h1M152 56h1M126 22h1M159 22h1M130 66h1M146 47h1M126 36h1M122 21h1M136 32h1M121 27h1M143 38h1M143 43h1M129 36h1M151 43h1M144 24h1M145 44h1M145 56h1M145 35h1M127 63h1M108 23h1M143 54h1M149 24h1M135 21h1M152 40h1M138 53h1M134 35h1M157 54h1M144 21h1M150 37h1M164 56h1M136 31h1M140 49h1M127 38h1M130 49h1M144 44h1M146 50h1M130 60h1M143 32h1M165 28h1M127 28h1M146 57h1M128 40h1M134 41h1M159 57h1M160 31h1M124 50h1M152 57h1M117 50h1M147 29h1M157 38h1M150 53h1M153 57h1M152 26h1M148 47h1M126 28h1M158 59h1M140 46h1M164 24h1M143 57h1M163 50h1M152 52h1M131 54h1M157 53h1M164 33h1M152 55h1M133 57h1M139 59h1M130 45h1M65 74h1M73 83h1M45 54h1M67 53h1M49 83h1M80 23h1M111 22h1M57 58h1M104 42h1M40 71h1M68 57h1M99 108h1M65 86h1M77 76h1M43 93h1M59 106h1M75 138h1M124 124h1M124 118h1M43 129h1M65 138h1M111 116h1M114 122h1M59 123h1M67 127h1M122 125h1M52 139h1M85 131h1M111 139h1M58 113h1M114 138h1M80 131h1M45 127h1M91 136h1M40 123h1M91 131h1M111 128h1M53 121h1M107 119h1M103 126h1M58 134h1M53 126h1M49 135h1M78 129h1M44 118h1M89 123h1M52 140h1M95 126h1M43 124h1M58 114h1M114 115h1M47 123h1M101 118h1M77 133h1M67 126h1M72 121h1M82 117h1M106 120h1M98 121h1M93 125h1M84 116h1M119 116h1M94 113h1M59 141h1M40 130h1M61 122h1M41 114h1M86 127h1M116 125h1M114 127h1M110 115h1M63 114h1M104 131h1M120 142h1M109 166h1M131 143h1M124 98h1M92 120h1M126 164h1M128 167h1M120 155h1M134 169h1M92 144h1M125 159h1M91 145h1M95 160h1M90 145h1M134 158h1M105 166h1M126 159h1M90 158h1M114 156h1M134 163h1M116 163h1M113 156h1M106 160h1M93 157h1M121 167h1M107 162h1M108 163h1M117 162h1M115 166h1M99 162h1M116 148h1M126 148h1M103 162h1M108 162h1M90 152h1M116 136h1M104 169h1M115 137h1M112 154h1M119 131h1M100 150h1M93 167h1M93 166h1M123 155h1M118 148h1M123 150h1M119 155h1M101 154h1M123 162h1M97 156h1M121 161h1M90 169h1M97 143h1M106 163h1M119 167h1M125 146h1M131 162h1M95 166h1M106 117h1M101 150h1M129 152h1M117 164h1M94 160h1M121 149h1M135 155h1M115 168h1M117 169h1M127 151h1M120 136h1M100 155h1M107 164h1M107 158h1M120 159h1M96 147h1M126 144h1M102 169h1M105 163h1M124 172h1M102 170h1M107 153h1M98 167h1M100 168h1M95 117h1M127 156h1M121 160h1M117 153h1M135 154h1M102 139h1M123 154h1M137 160h1M127 158h1M130 143h1M106 137h1M128 146h1M101 166h1M123 151h1M118 167h1M117 144h1M132 151h1M157 161h1M162 135h1M171 105h1M153 153h1M145 27h1M157 142h1M156 76h1M158 171h1M143 100h1M156 113h1M158 140h1M160 82h1M151 78h1M157 72h1M172 166h1M147 97h1M152 150h1M147 54h1M146 137h1M172 119h1M150 48h1M154 100h1M150 66h1M152 133h1M149 92h1M166 141h1M149 88h1M157 117h1M160 90h1M156 128h1M155 115h1M142 91h1M145 112h1M152 71h1" stroke="#1a1a1a" stroke-width="1" shape-rendering="crispEdges" fill="none" transform="translate(0,0.5)"/><rect x="36.3" y="19.2" width="144.7" height="155.1" fill="none" stroke="#000" stroke-width="1"/><path d="M114.3 19.2V174.3M36.3 116H181" stroke="#000" stroke-width="1" fill="none"/><path d="M36.30 174.3v3M36.3 174.30h-3M47.19 174.3v1.6M36.3 162.63h-1.6M53.56 174.3v1.6M36.3 155.80h-1.6M58.08 174.3v1.6M36.3 150.96h-1.6M61.59 174.3v1.6M36.3 147.20h-1.6M64.45 174.3v1.6M36.3 144.13h-1.6M66.87 174.3v1.6M36.3 141.53h-1.6M68.97 174.3v1.6M36.3 139.28h-1.6M70.82 174.3v1.6M36.3 137.30h-1.6M72.47 174.3v3M36.3 135.53h-3M83.36 174.3v1.6M36.3 123.85h-1.6M89.73 174.3v1.6M36.3 117.02h-1.6M94.25 174.3v1.6M36.3 112.18h-1.6M97.76 174.3v1.6M36.3 108.42h-1.6M100.62 174.3v1.6M36.3 105.35h-1.6M103.05 174.3v1.6M36.3 102.76h-1.6M105.14 174.3v1.6M36.3 100.51h-1.6M106.99 174.3v1.6M36.3 98.52h-1.6M108.65 174.3v3M36.3 96.75h-3M119.54 174.3v1.6M36.3 85.08h-1.6M125.91 174.3v1.6M36.3 78.25h-1.6M130.43 174.3v1.6M36.3 73.41h-1.6M133.94 174.3v1.6M36.3 69.65h-1.6M136.80 174.3v1.6M36.3 66.58h-1.6M139.22 174.3v1.6M36.3 63.98h-1.6M141.32 174.3v1.6M36.3 61.73h-1.6M143.17 174.3v1.6M36.3 59.75h-1.6M144.82 174.3v3M36.3 57.97h-3M155.71 174.3v1.6M36.3 46.30h-1.6M162.08 174.3v1.6M36.3 39.47h-1.6M166.60 174.3v1.6M36.3 34.63h-1.6M170.11 174.3v1.6M36.3 30.87h-1.6M172.97 174.3v1.6M36.3 27.80h-1.6M175.40 174.3v1.6M36.3 25.21h-1.6M177.49 174.3v1.6M36.3 22.96h-1.6M179.34 174.3v1.6M36.3 20.97h-1.6M181.00 174.3v3M36.3 19.20h-3" stroke="#000" stroke-width="0.7" fill="none"/><text class="t" x="31.2" y="184.1" textLength="5.6" lengthAdjust="spacingAndGlyphs" style="font-size:7.2px">10</text><text class="t" x="37.1" y="180.9" textLength="3.6" lengthAdjust="spacingAndGlyphs" style="font-size:6.8px">0</text><g transform="translate(30.5,174.3) rotate(-90)"><text class="t" x="-4.8" y="0" textLength="5.9" lengthAdjust="spacingAndGlyphs" style="font-size:7.4px">10</text><text class="t" x="2.4" y="-3.5" textLength="3.4" lengthAdjust="spacingAndGlyphs" style="font-size:7px">0</text></g><text class="t" x="67.4" y="184.1" textLength="5.6" lengthAdjust="spacingAndGlyphs" style="font-size:7.2px">10</text><text class="t" x="73.3" y="180.9" textLength="3.6" lengthAdjust="spacingAndGlyphs" style="font-size:6.8px">1</text><g transform="translate(30.5,135.5) rotate(-90)"><text class="t" x="-4.8" y="0" textLength="5.9" lengthAdjust="spacingAndGlyphs" style="font-size:7.4px">10</text><text class="t" x="2.4" y="-3.5" textLength="3.4" lengthAdjust="spacingAndGlyphs" style="font-size:7px">1</text></g><text class="t" x="103.5" y="184.1" textLength="5.6" lengthAdjust="spacingAndGlyphs" style="font-size:7.2px">10</text><text class="t" x="109.4" y="180.9" textLength="3.6" lengthAdjust="spacingAndGlyphs" style="font-size:6.8px">2</text><g transform="translate(30.5,96.8) rotate(-90)"><text class="t" x="-4.8" y="0" textLength="5.9" lengthAdjust="spacingAndGlyphs" style="font-size:7.4px">10</text><text class="t" x="2.4" y="-3.5" textLength="3.4" lengthAdjust="spacingAndGlyphs" style="font-size:7px">2</text></g><text class="t" x="139.7" y="184.1" textLength="5.6" lengthAdjust="spacingAndGlyphs" style="font-size:7.2px">10</text><text class="t" x="145.6" y="180.9" textLength="3.6" lengthAdjust="spacingAndGlyphs" style="font-size:6.8px">3</text><g transform="translate(30.5,58.0) rotate(-90)"><text class="t" x="-4.8" y="0" textLength="5.9" lengthAdjust="spacingAndGlyphs" style="font-size:7.4px">10</text><text class="t" x="2.4" y="-3.5" textLength="3.4" lengthAdjust="spacingAndGlyphs" style="font-size:7px">3</text></g><text class="t" x="175.9" y="184.1" textLength="5.6" lengthAdjust="spacingAndGlyphs" style="font-size:7.2px">10</text><text class="t" x="181.8" y="180.9" textLength="3.6" lengthAdjust="spacingAndGlyphs" style="font-size:6.8px">4</text><g transform="translate(30.5,19.2) rotate(-90)"><text class="t" x="-4.8" y="0" textLength="5.9" lengthAdjust="spacingAndGlyphs" style="font-size:7.4px">10</text><text class="t" x="2.4" y="-3.5" textLength="3.4" lengthAdjust="spacingAndGlyphs" style="font-size:7px">4</text></g><path d="M230 165h1M251 165h1M245 156h1M244 161h1M262 165h1M206 168h1M217 152h1M205 160h1M228 150h1M250 152h1M230 158h1M240 157h1M205 150h1M233 152h1M212 157h1M266 148h1M248 159h1M249 149h1M229 168h1M242 159h1M243 163h1M223 155h1M220 166h1M228 162h1M218 163h1M218 159h1M224 162h1M215 157h1M245 162h1M205 156h1M246 156h1M217 159h1M219 159h1M205 157h1M227 152h1M225 156h1M234 165h1M232 160h1M266 154h1M238 168h1M219 156h1M249 162h1M227 158h1M242 167h1M242 147h1M222 143h1M206 155h1M223 140h1M241 152h1M222 152h1M239 156h1M250 162h1M219 148h1M255 161h1M262 167h1M252 169h1M253 150h1M252 155h1M275 172h1M234 151h1M230 166h1M242 161h1M212 162h1M205 146h1M212 148h1M237 152h1M239 162h1M206 164h1M206 152h1M224 160h1M226 159h1M229 151h1M243 150h1M255 144h1M235 149h1M242 152h1M208 166h1M235 156h1M243 160h1M245 151h1M242 140h1M246 159h1M246 161h1M215 166h1M239 165h1M242 163h1M205 144h1M253 158h1M221 162h1M225 151h1M235 153h1M245 163h1M205 172h1M250 163h1M232 159h1M215 154h1M224 150h1M205 151h1M217 160h1M234 154h1M216 167h1M223 148h1M227 149h1M231 157h1M250 159h1M230 159h1M225 150h1M272 165h1M240 154h1M205 163h1M257 161h1M243 158h1M257 170h1M229 148h1M209 161h1M248 154h1M245 165h1M213 151h1M206 163h1M239 155h1M227 173h1M282 160h1M218 174h1M219 153h1M228 154h1M205 161h1M212 146h1M263 151h1M227 169h1M218 166h1M242 166h1M243 161h1M235 161h1M222 151h1M236 165h1M238 154h1M216 169h1M242 151h1M205 174h1M206 153h1M224 148h1M207 161h1M237 160h1M251 153h1M239 164h1M234 172h1M247 159h1M238 164h1M207 165h1M226 164h1M256 146h1M207 169h1M231 158h1M222 159h1M212 167h1M210 139h1M232 164h1M236 161h1M236 171h1M224 168h1M237 166h1M249 150h1M247 153h1M252 158h1M246 152h1M214 148h1M216 156h1M205 162h1M205 170h1M272 156h1M208 157h1M205 167h1M218 165h1M260 147h1M229 158h1M238 147h1M225 152h1M255 157h1M228 159h1M248 160h1M251 169h1M235 150h1M235 168h1M253 149h1M227 151h1M218 158h1M206 158h1M261 147h1M207 155h1M239 173h1M223 145h1M240 148h1M242 158h1M214 160h1M224 153h1M232 157h1M224 157h1M243 155h1M256 160h1M241 162h1M215 151h1M238 157h1M231 150h1M267 158h1M226 163h1M230 152h1M262 156h1M236 153h1M219 160h1M269 149h1M247 154h1M250 168h1M241 154h1M225 160h1M227 163h1M223 163h1M246 169h1M205 169h1M220 157h1M233 154h1M218 168h1M225 157h1M215 158h1M246 164h1M258 164h1M231 143h1M205 152h1M226 154h1M212 151h1M244 166h1M264 167h1M236 157h1M271 168h1M260 156h1M244 168h1M213 164h1M234 160h1M253 155h1M235 167h1M238 163h1M205 153h1M246 154h1M251 160h1M266 160h1M213 168h1M214 158h1M234 162h1M211 160h1M285 151h1M220 149h1M212 156h1M223 159h1M232 150h1M258 150h1M251 151h1M248 158h1M233 162h1M219 152h1M273 170h1M223 162h1M252 154h1M226 153h1M230 163h1M229 145h1M206 146h1M230 164h1M240 147h1M248 152h1M242 172h1M238 167h1M232 155h1M221 160h1M263 157h1M234 163h1M248 147h1M227 161h1M273 163h1M239 160h1M262 151h1M205 164h1M206 160h1M205 154h1M256 145h1M246 147h1M244 157h1M233 142h1M231 153h1M240 164h1M235 151h1M233 171h1M246 146h1M249 144h1M249 169h1M255 155h1M215 149h1M247 149h1M247 162h1M217 164h1M220 160h1M221 151h1M234 150h1M221 146h1M205 165h1M222 166h1M261 167h1M228 153h1M214 144h1M230 155h1M217 149h1M223 160h1M243 154h1M250 151h1M233 157h1M253 153h1M263 150h1M262 155h1M234 156h1M205 158h1M205 173h1M236 160h1M209 155h1M234 145h1M227 157h1M250 157h1M234 153h1M247 160h1M236 162h1M246 155h1M246 168h1M206 161h1M225 153h1M228 157h1M222 164h1M219 166h1M237 154h1M234 144h1M261 162h1M218 154h1M221 158h1M224 165h1M218 157h1M237 151h1M250 158h1M252 153h1M226 173h1M267 152h1M228 160h1M237 155h1M227 160h1M249 153h1M277 145h1M240 166h1M239 157h1M206 159h1M222 148h1M216 168h1M223 165h1M254 159h1M235 164h1M205 141h1M237 158h1M263 159h1M214 163h1M237 150h1M229 152h1M236 150h1M226 165h1M214 162h1M205 149h1M249 156h1M215 167h1M241 151h1M210 152h1M251 155h1M213 156h1M243 159h1M259 158h1M216 161h1M211 165h1M211 162h1M276 151h1M222 172h1M246 153h1M226 166h1M210 161h1M209 157h1M206 150h1M246 170h1M244 156h1M236 159h1M239 169h1M229 156h1M227 155h1M236 166h1M211 144h1M214 151h1M228 158h1M235 157h1M208 168h1M224 167h1M242 153h1M238 149h1M268 157h1M241 160h1M230 154h1M263 158h1M217 158h1M209 171h1M225 146h1M257 153h1M247 166h1M229 165h1M233 156h1M206 157h1M226 152h1M258 156h1M227 162h1M235 147h1M218 156h1M258 153h1M238 148h1M240 174h1M234 170h1M266 157h1M232 165h1M238 146h1M222 156h1M224 174h1M257 149h1M251 154h1M226 157h1M205 155h1M273 158h1M247 170h1M214 161h1M256 152h1M235 171h1M209 166h1M260 162h1M210 164h1M229 149h1M225 167h1M229 157h1M205 166h1M269 162h1M213 148h1M234 167h1M258 160h1M260 163h1M287 152h1M262 153h1M240 151h1M233 161h1M261 153h1M236 174h1M213 166h1M234 174h1M272 155h1M231 154h1M206 165h1M259 155h1M260 154h1M237 170h1M215 153h1M231 160h1M212 158h1M230 157h1M219 162h1M223 173h1M206 166h1M229 163h1M260 174h1M229 153h1M225 141h1M235 155h1M209 148h1M228 168h1M227 156h1M218 171h1M207 156h1M220 161h1M239 154h1M234 168h1M241 159h1M259 151h1M220 146h1M210 167h1M239 151h1M254 162h1M215 162h1M237 163h1M248 145h1M211 152h1M235 162h1M237 159h1M239 167h1M270 157h1M206 156h1M249 147h1M231 155h1M237 165h1M225 164h1M257 154h1M211 149h1M237 168h1M212 166h1M220 164h1M220 158h1M238 156h1M237 171h1M227 142h1M231 164h1M231 159h1M212 150h1M279 153h1M283 147h1M265 163h1M213 161h1M224 170h1M252 146h1M206 149h1M236 163h1M264 150h1M244 158h1M243 147h1M211 164h1M246 165h1M248 165h1M233 155h1M229 142h1M258 151h1M213 163h1M219 158h1M209 146h1M266 162h1M237 167h1M206 174h1M227 150h1M225 162h1M223 152h1M240 161h1M244 153h1M236 158h1M217 153h1M232 149h1M226 145h1M255 162h1M254 150h1M223 144h1M255 158h1M233 158h1M241 167h1M241 165h1M258 158h1M221 159h1M253 156h1M252 160h1M270 155h1M215 146h1M224 172h1M236 156h1M211 148h1M277 148h1M231 165h1M219 145h1M224 164h1M230 162h1M274 165h1M236 169h1M223 156h1M231 156h1M236 155h1M216 159h1M223 167h1M209 160h1M235 158h1M281 165h1M249 168h1M270 160h1M249 163h1M214 165h1M226 156h1M212 152h1M217 163h1M220 159h1M223 158h1M228 161h1M277 160h1M207 152h1M245 155h1M229 172h1M205 159h1M232 146h1M253 151h1M233 160h1M228 171h1M213 167h1M268 151h1M240 158h1M235 160h1M205 147h1M248 156h1M232 154h1M230 150h1M214 171h1M244 147h1M206 154h1M233 150h1M241 146h1M242 148h1M245 159h1M230 146h1M214 166h1M247 140h1M213 169h1M240 165h1M213 157h1M235 154h1M208 154h1M270 158h1M248 167h1M205 148h1M220 163h1M270 165h1M242 155h1M218 151h1M211 158h1M219 154h1M221 168h1M231 162h1M211 167h1M232 161h1M206 169h1M225 145h1M253 162h1M222 165h1M216 158h1M214 156h1M243 168h1M217 167h1M268 166h1M240 160h1M217 161h1M234 164h1M221 161h1M236 154h1M250 148h1M238 160h1M232 170h1M232 174h1M265 148h1M256 162h1M222 174h1M260 155h1M241 161h1M216 142h1M235 159h1M261 148h1M277 150h1M221 154h1M212 149h1M243 164h1M228 148h1M240 149h1M223 157h1M268 153h1M230 156h1M279 165h1M238 155h1M236 164h1M242 164h1M216 145h1M259 161h1M221 156h1M232 156h1M224 154h1M226 144h1M216 165h1M216 155h1M262 150h1M261 174h1M224 163h1M254 156h1M225 161h1M265 155h1M252 156h1M222 161h1M222 158h1M256 150h1M259 143h1M255 159h1M254 139h1M220 148h1M273 173h1M256 168h1M245 154h1M252 150h1M225 158h1M247 147h1M231 167h1M207 166h1M228 152h1M221 157h1M206 167h1M209 158h1M246 167h1M237 157h1M246 166h1M250 173h1M229 160h1M230 149h1M225 155h1M247 164h1M253 159h1M206 148h1M212 160h1M229 155h1M224 156h1M216 150h1M272 164h1M236 140h1M225 170h1M234 166h1M245 150h1M206 151h1M245 161h1M218 149h1M212 168h1M229 164h1M259 163h1M225 173h1M214 154h1M241 144h1M254 149h1M237 162h1M253 161h1M229 169h1M270 159h1M288 151h1M240 156h1M208 169h1M247 156h1M240 146h1M232 162h1M272 150h1M264 148h1M219 149h1M215 164h1M243 162h1M237 147h1M209 154h1M206 144h1M251 167h1M250 175h1M269 165h1M249 170h1M225 143h1M265 157h1M240 143h1M250 147h1M211 163h1M216 153h1M248 144h1M217 155h1M237 156h1M272 158h1M236 170h1M210 165h1M271 167h1M229 150h1M248 157h1M264 149h1M222 155h1M205 138h1M253 165h1M220 151h1M304 151h1M224 151h1M227 167h1M244 170h1M249 159h1M229 161h1M224 169h1M276 167h1M210 154h1M254 166h1M212 155h1M256 167h1M216 160h1M232 153h1M246 162h1M244 148h1M258 162h1M213 142h1M216 163h1M228 164h1M252 163h1M210 168h1M216 164h1M276 163h1M206 162h1M228 170h1M205 168h1M250 150h1M210 151h1M223 170h1M267 164h1M229 138h1M223 154h1M223 171h1M249 154h1M217 166h1M239 171h1M241 158h1M238 159h1M209 150h1M241 153h1M249 160h1M236 151h1M284 169h1M213 159h1M221 172h1M221 167h1M238 165h1M240 155h1M248 168h1M247 163h1M240 150h1M208 145h1M220 154h1M208 153h1M233 163h1M250 153h1M274 154h1M226 158h1M262 168h1M218 161h1M260 151h1M225 144h1M273 135h1M228 146h1M214 150h1M268 156h1M240 162h1M237 148h1M245 153h1M225 168h1M255 166h1M223 136h1M262 149h1M207 158h1M265 168h1M230 161h1M276 157h1M254 158h1M207 154h1M207 151h1M239 168h1M257 157h1M235 169h1M213 153h1M253 173h1M225 148h1M264 158h1M256 174h1M238 143h1M222 160h1M237 164h1M226 161h1M255 141h1M216 154h1M260 168h1M215 161h1M229 159h1M254 148h1M257 155h1M231 151h1M248 162h1M272 147h1M223 150h1M225 154h1M258 154h1M208 158h1M221 155h1M256 165h1M207 160h1M207 147h1M211 156h1M242 174h1M258 165h1M265 154h1M218 153h1M235 152h1M233 166h1M234 149h1M235 165h1M240 169h1M208 149h1M211 166h1M223 141h1M206 170h1M241 156h1M210 156h1M266 171h1M228 155h1M284 156h1M256 159h1M234 161h1M236 144h1M209 151h1M264 141h1M246 157h1M217 162h1M240 170h1M228 165h1M241 149h1M216 173h1M231 146h1M246 142h1M238 158h1M217 151h1M232 167h1M223 147h1M248 146h1M257 148h1M220 174h1M244 154h1M246 163h1M268 141h1M252 170h1M220 150h1M226 170h1M213 160h1M221 174h1M215 150h1M218 164h1M261 145h1M219 140h1M208 155h1M229 167h1M223 151h1M210 158h1M254 143h1M244 164h1M266 153h1M220 155h1M259 157h1M234 158h1M215 156h1M239 139h1M221 163h1M222 162h1M224 155h1M217 169h1M248 170h1M225 159h1M279 167h1M227 164h1M242 157h1M235 148h1M218 147h1M212 153h1M259 165h1M253 154h1M220 162h1M224 152h1M222 163h1M259 146h1M251 159h1M264 157h1M249 157h1M255 170h1M234 159h1M253 146h1M216 152h1M230 168h1M243 157h1M218 152h1M258 168h1M224 161h1M244 160h1M225 149h1M217 147h1M236 173h1M216 162h1M258 167h1M259 160h1M206 175h1M222 149h1M253 169h1M217 168h1M252 166h1M258 155h1M213 150h1M264 166h1M236 147h1M234 157h1M269 151h1M226 146h1M208 161h1M233 146h1M241 140h1M244 162h1M214 169h1M214 168h1M225 163h1M279 162h1M221 150h1M229 140h1M223 149h1M246 148h1M211 161h1M275 153h1M230 153h1M245 152h1M274 164h1M236 148h1M221 164h1M218 162h1M244 163h1M258 159h1M248 172h1M248 161h1M263 148h1M207 157h1M210 155h1M207 150h1M233 165h1M239 161h1M245 173h1M263 147h1M244 137h1M216 157h1M213 158h1M216 146h1M220 153h1M260 166h1M254 144h1M239 158h1M247 158h1M211 155h1M228 173h1M238 145h1M233 164h1M243 146h1M238 140h1M219 157h1M248 148h1M259 153h1M210 157h1M215 148h1M213 162h1M206 140h1M228 149h1M221 166h1M250 169h1M247 157h1M239 146h1M219 168h1M275 159h1M256 171h1M221 147h1M226 155h1M251 162h1M234 155h1M257 150h1M247 161h1M262 164h1M229 166h1M242 168h1M236 168h1M260 158h1M265 156h1M243 153h1M210 149h1M254 163h1M249 146h1M252 171h1M262 152h1M271 156h1M255 156h1M243 143h1M236 136h1M259 156h1M230 169h1M224 166h1M210 169h1M240 173h1M205 171h1M218 170h1M217 157h1M225 174h1M242 160h1M271 155h1M212 163h1M247 172h1M265 164h1M270 163h1M223 172h1M277 155h1M256 140h1M217 150h1M219 164h1M226 174h1M222 146h1M256 154h1M259 173h1M211 154h1M214 146h1M254 154h1M230 151h1M244 151h1M273 165h1M271 148h1M227 159h1M218 155h1M206 173h1M220 156h1M242 146h1M223 164h1M277 164h1M226 142h1M273 152h1M232 158h1M214 149h1M217 154h1M265 160h1M227 166h1M239 174h1M257 172h1M206 147h1M214 167h1M250 156h1M208 148h1M210 143h1M253 170h1M244 159h1M225 165h1M251 161h1M254 160h1M264 160h1M205 145h1M249 155h1M239 152h1M209 159h1M245 158h1M238 152h1M255 148h1M218 150h1M235 173h1M219 171h1M231 174h1M232 151h1M233 168h1M263 164h1M244 167h1M233 173h1M215 163h1M248 139h1M254 151h1M239 143h1M236 152h1M260 170h1M278 163h1M208 170h1M209 156h1M220 165h1M210 145h1M257 166h1M211 157h1M240 153h1M229 171h1M246 160h1M228 172h1M213 154h1M241 163h1M231 149h1M242 162h1M207 159h1M218 160h1M259 154h1M234 152h1M248 149h1M257 158h1M269 141h1M214 153h1M264 156h1M274 162h1M209 167h1M216 148h1M232 143h1M242 154h1M223 161h1M231 161h1M254 168h1M226 167h1M243 148h1M224 147h1M233 159h1M259 159h1M241 173h1M263 170h1M219 138h1M263 152h1M275 154h1M217 156h1M241 157h1M271 170h1M259 172h1M272 152h1M257 167h1M221 152h1M266 156h1M232 148h1M245 160h1M216 166h1M241 170h1M265 150h1M276 156h1M219 150h1M249 152h1M209 162h1M208 152h1M243 152h1M258 149h1M275 167h1M220 143h1M212 161h1M219 163h1M207 153h1M258 163h1M245 157h1M251 158h1M254 165h1M214 155h1M230 144h1M261 171h1M224 159h1M232 152h1M261 151h1M258 152h1M257 164h1M250 160h1M237 161h1M256 153h1M219 144h1M247 152h1M231 144h1M231 168h1M255 153h1M237 149h1M262 166h1M251 166h1M230 148h1M241 172h1M253 163h1M274 158h1M241 168h1M239 159h1M254 155h1M210 163h1M242 156h1M227 174h1M260 152h1M252 173h1M240 152h1M235 145h1M263 171h1M219 173h1M266 149h1M261 163h1M215 155h1M213 155h1M253 139h1M257 168h1M255 160h1M228 156h1M246 149h1M231 148h1M265 161h1M224 175h1M231 166h1M215 145h1M247 171h1M249 167h1M209 149h1M273 153h1M249 173h1M235 174h1M216 151h1M243 149h1M214 145h1M253 160h1M227 170h1M213 144h1M252 172h1M243 169h1M221 170h1M251 174h1M268 148h1M219 147h1M222 169h1M274 168h1M290 168h1M232 147h1M274 167h1M216 147h1M260 149h1M260 173h1M264 164h1M238 166h1M226 169h1M234 169h1M251 164h1M226 151h1M235 163h1M220 144h1M217 165h1M230 173h1M226 148h1M265 147h1M241 150h1M217 173h1M253 168h1M240 168h1M262 148h1M235 166h1M214 172h1M251 145h1M258 171h1M252 149h1M252 165h1M250 171h1M245 166h1M247 148h1M212 165h1M267 159h1M227 145h1M250 146h1M262 159h1M248 153h1M220 152h1M282 151h1M236 146h1M283 159h1M210 159h1M230 167h1M285 146h1M245 174h1M250 174h1M207 162h1M288 174h1M268 173h1M230 172h1M250 167h1M265 145h1M222 157h1M208 151h1M231 173h1M226 171h1M270 169h1M243 156h1M222 147h1M233 172h1M215 170h1M224 158h1M210 150h1M230 174h1M221 173h1M223 146h1M262 169h1M228 169h1M243 144h1M243 167h1M253 164h1M233 147h1M223 174h1M264 169h1M273 148h1M269 161h1M210 153h1M245 148h1M239 147h1M243 173h1M217 145h1M228 174h1M265 166h1M216 174h1M279 156h1M267 151h1M220 169h1M250 166h1M220 171h1M274 173h1M246 172h1M238 173h1M224 145h1M213 145h1M220 168h1M241 166h1M219 167h1M218 173h1M247 165h1M241 164h1M221 165h1M251 171h1M224 144h1M244 173h1M231 163h1M247 167h1M268 152h1M209 145h1M249 165h1M228 145h1M271 172h1M245 146h1M304 147h1M219 165h1M254 152h1M242 149h1M276 173h1M226 150h1M232 145h1M232 172h1M248 163h1M247 150h1M241 147h1M241 148h1M245 171h1M263 165h1M213 172h1M250 161h1M223 153h1M230 145h1M264 145h1M268 172h1M219 161h1M208 165h1M234 147h1M267 167h1M282 172h1M281 167h1M233 153h1M256 144h1M255 171h1M248 151h1M257 169h1M222 170h1M238 162h1M222 171h1M223 175h1M260 157h1M269 147h1M207 172h1M241 169h1M227 148h1M227 153h1M218 145h1M208 162h1M211 146h1M252 174h1M219 151h1M224 173h1M229 173h1M275 156h1M210 170h1M231 169h1M215 171h1M226 160h1M254 174h1M259 166h1M209 164h1M248 173h1M249 171h1M242 165h1M237 174h1M215 159h1M210 166h1M254 157h1M270 172h1M273 149h1M252 161h1M247 145h1M208 159h1M250 145h1M243 172h1M248 150h1M220 147h1M220 172h1M238 144h1M210 174h1M251 149h1M225 166h1M270 170h1M265 170h1M215 152h1M219 169h1M219 170h1M222 154h1M280 150h1M233 174h1M258 166h1M243 174h1M268 174h1M258 157h1M262 161h1M210 173h1M208 160h1M291 156h1M224 171h1M250 172h1M212 159h1M246 150h1M236 145h1M251 173h1M244 150h1M229 146h1M246 151h1M269 144h1M288 169h1M256 166h1M274 157h1M269 154h1M261 165h1M261 173h1M256 163h1M287 147h1M289 153h1M251 146h1M249 161h1M305 163h1M275 152h1M258 170h1M259 152h1M268 171h1M274 155h1M251 156h1M256 158h1M278 156h1M264 142h1M257 146h1M269 164h1M263 166h1M293 161h1M252 148h1M278 160h1M254 147h1M320 148h1M265 174h1M257 160h1M252 152h1M276 152h1M263 160h1M253 152h1M277 167h1M263 143h1M258 148h1M254 169h1M249 135h1M271 159h1M256 147h1M250 154h1M281 159h1M292 153h1M257 174h1M261 170h1M283 154h1M275 145h1M264 173h1M270 153h1M266 159h1M274 161h1M250 149h1M252 151h1M250 138h1M252 157h1M281 163h1M258 146h1M255 168h1M265 151h1M268 168h1M296 161h1M278 147h1M269 169h1M248 174h1M267 169h1M285 147h1M272 153h1M266 158h1M268 158h1M267 165h1M290 160h1M270 152h1M263 162h1M260 164h1M275 165h1M255 167h1M263 173h1M298 159h1M262 170h1M271 145h1M274 159h1M303 151h1M289 161h1M272 163h1M255 164h1M255 150h1M255 169h1M252 144h1M263 161h1M252 147h1M267 147h1M259 170h1M257 163h1M285 148h1M299 170h1M283 156h1M292 154h1M260 172h1M252 167h1M263 169h1M303 153h1M277 169h1M263 149h1M258 161h1M264 159h1M251 168h1M285 165h1M257 142h1M294 159h1M261 156h1M290 158h1M261 160h1M261 158h1M255 142h1M271 153h1M252 143h1M255 151h1M267 163h1M284 154h1M259 174h1M268 150h1M268 138h1M289 165h1M286 162h1M295 153h1M279 157h1M278 162h1M269 150h1M263 146h1M262 172h1M277 173h1M274 171h1M293 154h1M264 151h1M253 167h1M282 171h1M280 171h1M270 144h1M258 147h1M251 144h1M277 147h1M272 157h1M272 162h1M254 146h1M250 164h1M261 149h1M298 163h1M305 131h1M309 148h1M307 133h1M305 164h1M301 174h1M300 150h1M317 161h1M305 143h1M302 163h1M311 125h1M305 154h1M302 143h1M309 166h1M303 135h1M309 127h1M315 143h1M306 164h1M306 134h1M315 136h1M311 144h1M289 163h1M306 159h1M304 156h1M306 120h1M295 165h1M305 149h1M310 118h1M315 142h1M302 117h1M299 119h1M303 143h1M317 147h1M308 121h1M305 172h1M310 117h1M311 146h1M317 170h1M302 118h1M311 127h1M301 147h1M305 150h1M322 150h1M304 132h1M306 170h1M293 145h1M305 171h1M303 120h1M304 139h1M300 135h1M296 138h1M292 118h1M304 136h1M308 167h1M302 162h1M307 130h1M314 175h1M307 135h1M309 159h1M302 148h1M311 165h1M305 135h1M303 119h1M301 130h1M312 121h1M306 169h1M308 152h1M315 141h1M305 165h1M314 136h1M303 147h1M305 159h1M312 126h1M309 137h1M311 175h1M308 132h1M300 122h1M306 153h1M314 145h1M309 123h1M313 145h1M314 135h1M299 124h1M313 117h1M305 174h1M308 172h1M304 153h1M310 130h1M314 117h1M319 146h1M300 126h1M296 164h1M306 126h1M310 153h1M313 163h1M315 161h1M300 162h1M305 128h1M307 137h1M304 141h1M312 163h1M311 167h1M305 120h1M303 162h1M307 126h1M307 138h1M307 157h1M296 137h1M308 163h1M301 127h1M339 129h1M304 123h1M293 172h1M318 172h1M317 142h1M302 161h1M313 157h1M311 173h1M305 160h1M302 128h1M301 139h1M307 156h1M310 171h1M299 123h1M299 152h1M316 120h1M306 150h1M319 170h1M322 164h1M307 160h1M312 144h1M312 141h1M310 126h1M300 167h1M305 175h1M325 123h1M302 172h1M307 168h1M305 126h1M309 165h1M302 155h1M305 146h1M310 149h1M297 160h1M310 134h1M299 171h1M308 123h1M304 126h1M300 146h1M297 162h1M304 138h1M306 151h1M314 141h1M303 154h1M307 124h1M305 170h1M306 160h1M314 137h1M312 152h1M313 169h1M309 126h1M310 150h1M313 121h1M305 125h1M303 158h1M301 163h1M314 156h1M307 118h1M314 157h1M309 155h1M301 129h1M300 155h1M307 167h1M298 154h1M303 146h1M304 154h1M301 156h1M307 122h1M304 152h1M303 149h1M307 164h1M306 168h1M304 155h1M315 169h1M304 127h1M303 157h1M313 134h1M312 134h1M308 138h1M302 174h1M300 129h1M301 136h1M310 146h1M308 139h1M306 157h1M314 171h1M309 144h1M309 149h1M306 167h1M307 173h1M298 153h1M305 132h1M313 140h1M303 145h1M312 119h1M310 175h1M307 151h1M304 164h1M308 147h1M311 123h1M302 142h1M302 130h1M314 119h1M310 163h1M302 123h1M309 139h1M302 125h1M310 161h1M311 137h1M314 163h1M296 120h1M309 146h1M312 135h1M309 122h1M310 127h1M314 144h1M315 137h1M310 157h1M303 174h1M299 141h1M310 164h1M300 133h1M310 136h1M318 136h1M305 151h1M301 142h1M301 150h1M306 118h1M302 137h1M308 166h1M300 140h1M312 120h1M308 168h1M310 168h1M305 142h1M306 144h1M304 131h1M307 158h1M314 134h1M309 164h1M313 119h1M309 142h1M303 164h1M306 141h1M311 122h1M297 120h1M304 122h1M306 171h1M305 130h1M301 165h1M319 130h1M314 168h1M299 144h1M307 159h1M293 124h1M309 161h1M303 133h1M306 155h1M310 131h1M300 119h1M298 148h1M310 135h1M312 146h1M305 121h1M317 117h1M313 124h1M302 144h1M294 160h1M300 127h1M311 151h1M310 120h1M306 122h1M310 137h1M302 153h1M307 166h1M307 128h1M301 154h1M301 157h1M279 147h1M303 138h1M299 137h1M305 129h1M315 175h1M308 120h1M318 162h1M309 168h1M311 148h1M306 119h1M297 124h1M309 138h1M298 124h1M309 167h1M303 148h1M309 141h1M307 175h1M307 142h1M309 125h1M315 151h1M312 142h1M311 162h1M303 134h1M306 148h1M300 132h1M306 175h1M317 133h1M301 132h1M303 124h1M315 122h1M306 143h1M318 163h1M300 121h1M316 148h1M311 164h1M291 149h1M310 124h1M312 155h1M306 130h1M310 172h1M312 170h1M333 117h1M326 120h1M308 122h1M295 160h1M307 144h1M309 143h1M314 131h1M290 153h1M303 172h1M308 155h1M310 169h1M303 128h1M331 139h1M314 126h1M309 119h1M306 132h1M321 127h1M302 135h1M300 169h1M311 131h1M306 174h1M311 119h1M310 166h1M304 124h1M299 159h1M303 170h1M306 163h1M306 123h1M307 145h1M297 139h1M309 157h1M299 175h1M302 132h1M298 162h1M290 135h1M303 131h1M304 144h1M300 168h1M303 150h1M299 125h1M306 165h1M305 169h1M307 170h1M308 156h1M301 133h1M311 171h1M307 129h1M306 152h1M302 131h1M310 119h1M311 161h1M313 155h1M306 136h1M300 166h1M307 165h1M313 174h1M315 140h1M307 120h1M307 134h1M305 119h1M302 133h1M297 151h1M300 171h1M310 159h1M301 152h1M306 138h1M312 132h1M307 152h1M300 134h1M310 145h1M298 120h1M305 136h1M313 159h1M304 119h1M314 130h1M325 165h1M296 160h1M314 129h1M300 151h1M313 136h1M298 146h1M311 133h1M296 165h1M298 167h1M309 132h1M316 121h1M307 127h1M326 171h1M308 165h1M313 126h1M310 165h1M305 168h1M297 147h1M309 131h1M308 148h1M297 137h1M315 158h1M313 131h1M307 147h1M301 167h1M303 160h1M301 170h1M308 143h1M311 121h1M296 146h1M315 172h1M300 142h1M315 118h1M299 136h1M302 147h1M305 153h1M318 152h1M320 162h1M314 140h1M303 169h1M305 124h1M306 154h1M314 167h1M294 144h1M300 160h1M304 157h1M301 128h1M303 155h1M310 154h1M312 153h1M305 157h1M305 156h1M309 169h1M316 119h1M301 161h1M303 126h1M308 170h1M288 175h1M312 129h1M311 130h1M302 169h1M307 149h1M296 117h1M300 164h1M300 131h1M311 155h1M311 166h1M316 171h1M311 139h1M296 118h1M310 143h1M308 118h1M308 144h1M298 145h1M309 175h1M299 142h1M304 166h1M316 155h1M276 126h1M311 149h1M304 134h1M319 135h1M310 167h1M304 169h1M310 174h1M299 156h1M316 137h1M305 123h1M307 161h1M311 142h1M306 137h1M313 129h1M314 122h1M309 129h1M307 163h1M311 141h1M306 145h1M311 150h1M315 170h1M302 167h1M304 162h1M306 140h1M308 164h1M316 164h1M310 128h1M308 153h1M304 118h1M294 169h1M304 173h1M301 123h1M306 161h1M309 173h1M300 118h1M301 175h1M311 118h1M301 124h1M300 130h1M312 161h1M319 127h1M304 142h1M294 147h1M304 148h1M303 165h1M308 149h1M302 120h1M307 123h1M303 142h1M307 148h1M309 121h1M305 148h1M311 153h1M313 150h1M299 129h1M298 149h1M296 124h1M321 146h1M302 154h1M309 136h1M300 175h1M313 133h1M309 135h1M314 124h1M313 120h1M307 140h1M303 168h1M308 162h1M308 134h1M307 125h1M302 150h1M301 135h1M299 138h1M309 156h1M312 133h1M319 164h1M315 135h1M299 153h1M303 140h1M312 128h1M301 172h1M312 136h1M314 120h1M306 124h1M308 161h1M306 158h1M306 142h1M299 134h1M300 163h1M296 140h1M314 138h1M309 174h1M294 174h1M307 146h1M309 118h1M310 139h1M297 144h1M291 157h1M302 124h1M312 159h1M302 152h1M317 139h1M303 137h1M308 125h1M305 122h1M330 123h1M310 147h1M301 164h1M306 135h1M315 168h1M310 155h1M300 153h1M316 128h1M295 134h1M298 147h1M302 127h1M317 171h1M295 158h1M310 123h1M312 140h1M316 153h1M306 117h1M319 157h1M311 172h1M300 141h1M308 130h1M297 142h1M305 152h1M312 143h1M301 121h1M306 129h1M315 147h1M311 132h1M298 131h1M310 170h1M306 127h1M305 139h1M310 132h1M301 146h1M296 150h1M297 117h1M313 148h1M310 142h1M286 143h1M291 158h1M318 167h1M307 121h1M302 157h1M312 165h1M302 166h1M307 143h1M307 119h1M306 128h1M312 118h1M307 132h1M307 155h1M298 140h1M311 140h1M301 119h1M304 160h1M312 123h1M295 156h1M310 138h1M306 147h1M315 155h1M304 168h1M316 122h1M298 136h1M310 144h1M311 163h1M296 128h1M309 151h1M305 118h1M308 129h1M309 171h1M311 159h1M305 166h1M313 152h1M314 155h1M319 173h1M309 163h1M298 139h1M305 127h1M301 134h1M299 174h1M298 132h1M308 154h1M308 157h1M311 135h1M307 141h1M308 126h1M302 158h1M315 125h1M307 171h1M296 125h1M302 129h1M316 166h1M311 158h1M310 148h1M316 126h1M314 148h1M307 136h1M326 152h1M296 173h1M288 144h1M312 167h1M331 161h1M308 135h1M303 121h1M310 133h1M309 162h1M314 133h1M303 144h1M299 131h1M308 119h1M337 168h1M298 138h1M308 142h1M309 158h1M311 120h1M318 120h1M303 125h1M316 146h1M309 133h1M314 151h1M305 141h1M295 162h1M308 124h1M303 152h1M301 125h1M307 154h1M314 173h1M305 155h1M294 123h1M305 145h1M307 169h1M311 124h1M311 128h1M301 162h1M282 131h1M313 173h1M314 164h1M333 162h1M295 149h1M312 156h1M304 171h1M298 168h1M296 122h1M293 140h1M326 157h1M304 146h1M304 129h1M313 137h1M296 152h1M293 119h1M300 174h1M297 141h1M309 124h1M300 172h1M309 117h1M291 172h1M312 150h1M304 163h1M308 171h1M316 160h1M309 160h1M301 168h1M303 161h1M307 153h1M293 153h1M315 157h1M317 156h1M301 153h1M304 150h1M295 168h1M307 139h1M308 158h1M314 159h1M304 137h1M312 171h1M303 167h1M305 162h1M312 172h1M314 161h1M310 160h1M302 138h1M311 169h1M308 160h1M295 174h1M300 152h1M309 152h1M304 135h1M300 156h1M305 161h1M295 135h1M304 165h1M305 158h1M316 169h1M306 166h1M311 168h1M310 152h1M305 173h1M306 156h1M310 141h1M313 160h1M311 136h1M296 162h1M306 162h1M297 153h1M320 146h1M308 151h1M313 143h1M315 166h1M287 139h1M297 172h1M303 163h1M301 148h1M310 156h1M298 156h1M302 159h1M302 164h1M311 152h1M313 125h1M304 143h1M291 147h1M316 136h1M321 167h1M315 165h1M302 149h1M304 161h1M324 165h1M307 172h1M303 166h1M304 130h1M303 156h1M304 175h1M313 165h1M310 158h1M301 137h1M302 171h1M323 151h1M297 148h1M301 166h1M299 157h1M301 151h1M308 169h1M308 146h1M316 170h1M308 140h1M314 166h1M315 152h1M308 159h1M303 171h1M314 170h1M309 172h1M306 114h1M307 162h1M312 166h1M299 173h1M317 148h1M302 170h1M310 162h1M299 145h1M301 169h1M311 157h1M300 144h1M302 156h1M310 140h1M312 162h1M312 92h1M305 102h1M309 107h1M302 91h1M313 64h1M305 63h1M311 78h1M317 76h1M305 96h1M304 106h1M314 64h1M309 90h1M316 79h1M318 93h1M304 109h1M309 83h1M307 87h1M316 68h1M307 116h1M317 69h1M311 92h1M320 89h1M307 70h1M311 74h1M308 93h1M310 86h1M303 117h1M312 74h1M313 66h1M305 98h1M315 83h1M309 92h1M310 90h1M314 102h1M305 81h1M309 94h1M314 118h1M300 107h1M312 107h1M314 60h1M312 80h1M307 96h1M310 110h1M315 70h1M316 66h1M300 116h1M306 71h1M305 86h1M310 70h1M309 102h1M308 74h1M306 67h1M306 110h1M322 72h1M305 92h1M307 113h1M308 66h1M313 65h1M301 115h1M306 108h1M303 111h1M319 73h1M301 93h1M294 118h1M305 68h1M308 75h1M312 73h1M308 76h1M308 116h1M297 69h1M307 81h1M315 72h1M315 80h1M322 71h1M307 62h1M311 99h1M310 99h1M309 104h1M308 117h1M310 103h1M307 90h1M310 77h1M307 97h1M304 101h1M311 106h1M321 93h1M310 73h1M308 106h1M300 87h1M312 71h1M307 105h1M310 84h1M310 91h1M316 107h1M317 60h1M311 112h1M311 60h1M309 108h1M321 89h1M304 90h1M299 89h1M310 112h1M308 110h1M306 72h1M302 115h1M317 65h1M319 69h1M308 114h1M318 63h1M324 102h1M310 65h1M301 116h1M304 107h1M310 64h1M306 106h1M299 106h1M311 80h1M311 104h1M302 66h1M310 74h1M297 86h1M310 87h1M306 91h1M311 111h1M307 101h1M313 90h1M307 84h1M308 94h1M301 102h1M307 117h1M303 78h1M311 66h1M312 88h1M305 111h1M310 98h1M307 88h1M316 94h1M308 102h1M312 82h1M304 95h1M305 64h1M316 67h1M317 85h1M301 117h1M301 107h1M312 109h1M316 60h1M304 74h1M287 113h1M319 67h1M302 90h1M313 77h1M307 100h1M305 88h1M314 81h1M306 104h1M308 111h1M307 71h1M303 96h1M313 80h1M319 83h1M317 81h1M314 77h1M304 84h1M319 62h1M304 112h1M311 96h1M311 70h1M308 105h1M306 100h1M315 61h1M312 76h1M309 98h1M310 89h1M313 87h1M309 76h1M307 75h1M310 116h1M308 78h1M317 96h1M306 112h1M312 97h1M312 77h1M307 79h1M323 64h1M319 110h1M308 90h1M306 109h1M306 102h1M311 114h1M315 86h1M314 93h1M307 107h1M314 73h1M312 104h1M308 97h1M306 87h1M305 90h1M313 116h1M303 115h1M309 79h1M307 108h1M309 101h1M309 81h1M314 69h1M312 94h1M306 61h1M308 80h1M308 72h1M313 67h1M302 106h1M304 60h1M309 70h1M302 119h1M315 109h1M294 105h1M294 108h1M309 86h1M303 108h1M313 105h1M313 109h1M311 88h1M312 70h1M306 83h1M300 114h1M321 63h1M314 98h1M306 111h1M307 74h1M306 97h1M301 97h1M312 95h1M306 65h1M309 89h1M311 61h1M300 92h1M310 68h1M298 93h1M303 101h1M304 100h1M315 62h1M306 103h1M312 66h1M315 95h1M304 98h1M308 77h1M312 96h1M313 82h1M310 115h1M322 65h1M309 68h1M300 106h1M310 80h1M303 99h1M311 102h1M315 68h1M310 81h1M304 110h1M313 74h1M309 73h1M306 92h1M312 90h1M311 71h1M309 65h1M311 68h1M302 94h1M308 86h1M303 61h1M308 82h1M308 87h1M316 73h1M311 101h1M310 108h1M306 94h1M302 101h1M299 103h1M298 97h1M313 118h1M312 99h1M316 111h1M314 94h1M299 99h1M320 112h1M314 103h1M323 99h1M314 83h1M314 89h1M306 95h1M313 63h1M311 75h1M316 85h1M309 85h1M313 113h1M309 95h1M307 95h1M310 101h1M309 114h1M312 61h1M313 89h1M318 64h1M316 105h1M307 114h1M310 107h1M300 110h1M314 61h1M307 66h1M309 71h1M310 104h1M310 109h1M314 85h1M315 64h1M303 98h1M313 101h1M320 119h1M315 82h1M311 73h1M317 77h1M323 32h1M301 40h1M323 59h1M328 35h1M309 52h1M312 43h1M310 45h1M303 39h1M318 40h1M307 31h1M306 40h1M328 46h1M311 30h1M310 40h1M314 43h1M317 33h1M321 66h1M310 38h1M321 49h1M312 51h1M309 47h1M315 57h1M316 37h1M324 33h1M319 66h1M312 64h1M322 47h1M301 68h1M311 43h1M318 33h1M316 69h1M308 29h1M316 31h1M300 55h1M320 48h1M318 42h1M308 40h1M312 56h1M331 35h1M310 49h1M328 39h1M342 44h1M320 32h1M323 52h1M317 52h1M312 55h1M302 57h1M321 32h1M313 32h1M304 58h1M325 31h1M308 43h1M321 22h1M297 43h1M303 32h1M315 42h1M335 26h1M314 28h1M323 36h1M314 35h1M313 40h1M308 32h1M313 43h1M304 66h1M337 41h1M307 53h1M319 29h1M324 23h1M316 40h1M321 55h1M307 22h1M321 34h1M310 47h1M324 50h1M304 48h1M316 46h1M303 40h1M323 41h1M302 48h1M313 47h1M306 48h1M321 53h1M313 28h1M309 39h1M317 45h1M305 61h1M328 26h1M328 40h1M314 58h1M311 37h1M314 22h1M321 56h1M320 44h1M307 36h1M315 39h1M306 50h1M320 71h1M319 26h1M320 34h1M315 29h1M314 63h1M328 50h1M313 38h1M312 68h1M315 44h1M304 37h1M308 49h1M310 30h1M315 55h1M323 33h1M307 40h1M319 50h1M312 62h1M322 36h1M298 45h1M310 44h1M311 35h1M318 58h1M318 47h1M314 49h1M315 56h1M317 24h1M329 35h1M324 43h1M313 57h1M319 35h1M308 61h1M312 33h1M314 48h1M307 55h1M295 57h1M316 56h1M324 25h1M313 48h1M308 60h1M313 55h1M311 36h1M314 39h1M320 38h1M313 69h1M303 45h1M314 51h1M305 56h1M309 34h1M323 37h1M313 37h1M319 46h1M303 34h1M314 42h1M301 31h1M296 27h1M325 40h1M299 54h1M317 46h1M311 63h1M308 73h1M321 42h1M291 61h1M337 44h1M314 53h1M324 47h1M317 71h1M318 52h1M310 35h1M327 45h1M313 58h1M321 46h1M316 55h1M313 50h1M309 27h1M310 55h1M308 28h1M306 54h1M319 38h1M324 37h1M308 37h1M308 56h1M310 50h1M320 37h1M307 38h1M325 29h1M320 39h1M314 37h1M320 25h1M317 44h1M312 41h1M309 50h1M318 49h1M317 35h1M306 30h1M311 49h1M318 55h1M309 61h1M290 30h1M322 32h1M300 41h1M325 34h1M307 37h1M310 52h1M301 59h1M313 41h1M319 39h1M302 35h1M328 59h1M312 49h1M310 36h1M304 71h1M319 59h1M311 55h1M325 51h1M309 30h1M308 50h1M335 39h1M315 48h1M331 33h1M310 48h1M310 51h1M330 43h1M320 43h1M308 59h1M312 32h1M299 61h1M316 22h1M305 49h1M315 31h1M319 25h1M315 37h1M320 30h1M315 43h1M312 54h1M324 32h1M302 56h1M318 37h1M325 35h1M321 48h1M327 27h1M305 52h1M306 34h1M332 32h1M318 38h1M306 62h1M329 43h1M309 46h1M319 23h1M313 33h1M297 50h1M311 52h1M310 31h1M328 48h1M314 36h1M333 61h1M319 37h1M302 62h1M326 58h1M319 43h1M298 49h1M306 39h1M324 31h1M310 58h1M320 57h1M310 26h1M310 72h1M313 56h1M318 36h1M315 40h1M311 44h1M318 26h1M311 46h1M330 22h1M320 53h1M298 25h1M317 32h1M311 54h1M319 51h1M305 58h1M315 47h1M313 45h1M321 40h1M312 40h1M306 47h1M323 55h1M319 47h1M317 64h1M322 27h1M324 42h1M313 51h1M328 24h1M322 26h1M321 28h1M301 41h1M317 48h1M312 38h1M322 28h1M308 36h1M307 47h1M309 48h1M308 52h1M324 24h1M303 33h1M316 38h1M301 42h1M315 54h1M318 59h1M317 41h1M306 35h1M301 28h1M329 36h1M313 26h1M316 32h1M307 24h1M322 25h1M306 28h1M326 22h1M320 52h1M307 39h1M318 45h1M326 36h1M290 45h1M315 22h1M304 39h1M305 34h1M311 25h1M323 40h1M302 28h1M318 56h1M314 26h1M307 45h1M306 45h1M313 24h1M320 29h1M306 32h1M312 25h1M321 44h1M320 41h1M302 33h1M303 54h1M314 34h1M309 49h1M316 76h1M324 59h1M319 30h1M313 36h1M317 38h1M309 54h1M314 33h1M326 52h1M317 28h1M328 36h1M308 47h1M321 43h1M317 34h1M313 29h1M304 45h1M305 42h1M314 38h1M321 36h1M304 46h1M316 43h1M308 64h1M319 56h1M311 22h1M300 62h1M308 62h1M319 57h1M303 43h1M319 63h1M310 23h1M303 26h1M302 47h1M308 45h1M303 67h1M282 45h1M318 23h1M323 25h1M318 39h1M310 33h1M342 35h1M324 45h1M312 35h1M305 28h1M311 27h1M316 54h1M312 60h1M323 43h1M316 35h1M310 29h1M326 55h1M313 46h1M315 49h1M315 52h1M319 32h1M302 53h1M311 59h1M325 22h1M320 46h1M315 34h1M308 57h1M296 32h1M308 53h1M325 39h1M299 36h1M308 44h1M307 26h1M299 71h1M299 58h1M310 46h1M315 32h1M313 53h1M324 39h1M324 30h1M312 47h1M308 27h1M319 48h1M328 52h1M313 27h1M304 69h1M329 50h1M310 63h1M318 41h1M314 44h1M327 39h1M292 42h1M315 58h1M314 62h1M322 40h1M321 30h1M310 27h1M303 63h1M326 46h1M311 28h1M313 59h1M342 42h1M326 47h1M320 51h1M317 31h1M322 34h1M305 50h1M300 50h1M321 60h1M303 53h1M307 29h1M319 54h1M311 40h1M325 36h1M316 28h1M317 47h1M307 44h1M317 40h1M284 37h1M330 31h1M312 42h1M305 47h1M315 50h1M321 33h1M314 30h1M312 31h1M320 63h1M317 56h1M343 28h1M309 60h1M299 33h1M286 63h1M305 32h1M330 28h1M321 52h1M321 45h1M310 39h1M313 35h1M308 35h1M283 62h1M318 48h1M315 53h1M302 58h1M309 51h1M315 33h1M322 52h1M298 46h1M333 42h1M305 48h1M300 31h1M308 38h1M305 23h1M305 40h1M319 36h1M330 55h1M283 38h1M322 35h1M329 26h1M319 22h1M311 39h1M312 34h1M327 25h1M309 36h1M291 42h1M319 27h1M318 44h1M320 31h1M316 45h1M334 26h1M307 46h1M334 23h1M316 39h1M330 37h1M307 57h1M316 62h1M329 38h1M329 27h1M296 42h1M328 22h1M333 25h1M324 35h1M318 66h1M326 38h1M309 43h1M308 25h1M309 41h1M310 32h1M309 23h1M309 64h1M308 41h1M313 22h1M278 42h1M305 22h1M312 23h1M322 23h1M309 33h1M311 51h1M303 23h1M312 46h1M324 28h1M328 29h1M310 22h1M314 45h1M326 28h1M288 54h1M312 39h1M319 42h1M312 27h1M320 22h1M317 25h1M322 22h1M307 30h1M313 39h1M300 26h1M311 24h1M287 32h1M309 22h1M285 22h1M321 26h1M315 38h1M317 30h1M307 32h1M305 65h1M318 22h1M307 48h1M331 30h1M327 28h1M326 33h1M316 23h1M312 52h1M338 25h1M299 26h1M343 23h1M298 57h1M323 26h1M322 41h1M318 43h1M300 22h1M342 46h1M314 29h1M320 33h1M328 41h1M318 50h1M283 33h1M318 29h1M327 58h1M341 39h1M316 58h1M297 47h1M323 23h1M295 25h1M308 26h1M300 46h1M323 24h1M252 26h1M332 54h1M299 47h1M297 28h1M291 25h1M325 46h1M307 56h1M333 23h1M316 51h1M287 45h1M302 40h1M322 38h1M315 24h1M327 48h1M303 58h1M321 29h1M320 35h1M289 53h1M294 44h1M321 25h1M296 52h1M344 28h1M325 24h1M293 40h1M305 24h1M290 43h1M317 53h1M293 46h1M326 25h1M296 47h1M214 56h1M229 71h1M228 51h1M229 45h1M215 101h1M220 23h1M280 139h1M273 117h1M290 122h1M287 123h1M272 126h1M237 129h1M209 139h1M235 142h1M216 130h1M258 127h1M287 129h1M258 119h1M251 115h1M235 126h1M265 127h1M221 119h1M276 138h1M220 123h1M278 120h1M291 139h1M268 129h1M282 139h1M258 124h1M263 119h1M262 126h1M219 136h1M289 118h1M235 140h1M224 131h1M214 140h1M213 121h1M260 135h1M220 121h1M218 121h1M288 138h1M273 136h1M250 122h1M238 122h1M229 117h1M235 125h1M243 133h1M272 131h1M266 125h1M269 137h1M239 133h1M242 142h1M265 124h1M233 120h1M273 128h1M276 142h1M247 130h1M249 138h1M217 138h1M263 131h1M217 123h1M237 123h1M290 148h1M274 123h1M273 140h1M296 158h1M279 155h1M302 141h1M280 161h1M289 125h1M292 149h1M292 157h1M277 152h1M292 151h1M294 158h1M279 150h1M297 158h1M283 167h1M284 142h1M271 152h1M295 166h1M282 155h1M296 166h1M274 105h1M287 142h1M264 165h1M286 108h1M265 165h1M282 162h1M266 132h1M287 160h1M300 161h1M272 124h1M289 157h1M265 137h1M298 160h1M286 157h1M267 154h1M289 151h1M300 148h1M276 161h1M290 149h1M299 149h1M266 152h1M273 159h1M287 145h1M295 167h1M275 164h1M288 161h1M299 162h1M261 143h1M269 171h1M269 156h1M294 138h1M273 168h1M278 158h1M288 163h1M274 151h1M287 156h1M278 152h1M280 168h1M289 166h1M295 164h1M282 159h1M280 151h1M305 113h1M282 168h1M268 146h1M259 142h1M269 157h1M271 150h1M286 168h1M283 166h1M280 147h1M286 137h1M297 146h1M271 142h1M266 146h1M277 144h1M283 152h1M281 148h1M268 167h1M271 162h1M261 152h1M280 140h1M289 171h1M296 149h1M274 152h1M287 157h1M324 100h1M338 40h1M323 127h1M311 41h1M318 114h1M314 78h1M324 52h1M319 96h1M315 120h1M321 68h1M328 95h1M307 69h1M325 155h1M322 56h1M324 48h1M321 170h1M310 114h1M311 95h1M310 85h1M315 160h1M322 170h1M330 111h1M311 105h1M314 24h1M314 125h1M327 93h1M311 147h1M322 29h1M312 48h1M327 159h1M322 30h1M307 86h1M314 150h1M314 109h1M312 93h1" stroke="#1a1a1a" stroke-width="1" shape-rendering="crispEdges" fill="none" transform="translate(0,0.5)"/><rect x="203.5" y="20.9" width="144.4" height="154.7" fill="none" stroke="#000" stroke-width="1"/><path d="M281.3 20.9V175.6M203.5 117.6H347.9" stroke="#000" stroke-width="1" fill="none"/><path d="M203.50 175.6v3M203.5 175.60h-3M214.37 175.6v1.6M203.5 163.96h-1.6M220.72 175.6v1.6M203.5 157.15h-1.6M225.23 175.6v1.6M203.5 152.32h-1.6M228.73 175.6v1.6M203.5 148.57h-1.6M231.59 175.6v1.6M203.5 145.51h-1.6M234.01 175.6v1.6M203.5 142.92h-1.6M236.10 175.6v1.6M203.5 140.67h-1.6M237.95 175.6v1.6M203.5 138.69h-1.6M239.60 175.6v3M203.5 136.93h-3M250.47 175.6v1.6M203.5 125.28h-1.6M256.82 175.6v1.6M203.5 118.47h-1.6M261.33 175.6v1.6M203.5 113.64h-1.6M264.83 175.6v1.6M203.5 109.89h-1.6M267.69 175.6v1.6M203.5 106.83h-1.6M270.11 175.6v1.6M203.5 104.24h-1.6M272.20 175.6v1.6M203.5 102.00h-1.6M274.05 175.6v1.6M203.5 100.02h-1.6M275.70 175.6v3M203.5 98.25h-3M286.57 175.6v1.6M203.5 86.61h-1.6M292.92 175.6v1.6M203.5 79.80h-1.6M297.43 175.6v1.6M203.5 74.97h-1.6M300.93 175.6v1.6M203.5 71.22h-1.6M303.79 175.6v1.6M203.5 68.16h-1.6M306.21 175.6v1.6M203.5 65.57h-1.6M308.30 175.6v1.6M203.5 63.32h-1.6M310.15 175.6v1.6M203.5 61.34h-1.6M311.80 175.6v3M203.5 59.58h-3M322.67 175.6v1.6M203.5 47.93h-1.6M329.02 175.6v1.6M203.5 41.12h-1.6M333.53 175.6v1.6M203.5 36.29h-1.6M337.03 175.6v1.6M203.5 32.54h-1.6M339.89 175.6v1.6M203.5 29.48h-1.6M342.31 175.6v1.6M203.5 26.89h-1.6M344.40 175.6v1.6M203.5 24.65h-1.6M346.25 175.6v1.6M203.5 22.67h-1.6M347.90 175.6v3M203.5 20.90h-3" stroke="#000" stroke-width="0.7" fill="none"/><text class="t" x="198.4" y="185.4" textLength="5.6" lengthAdjust="spacingAndGlyphs" style="font-size:7.2px">10</text><text class="t" x="204.3" y="182.2" textLength="3.6" lengthAdjust="spacingAndGlyphs" style="font-size:6.8px">0</text><g transform="translate(197.7,175.6) rotate(-90)"><text class="t" x="-4.8" y="0" textLength="5.9" lengthAdjust="spacingAndGlyphs" style="font-size:7.4px">10</text><text class="t" x="2.4" y="-3.5" textLength="3.4" lengthAdjust="spacingAndGlyphs" style="font-size:7px">0</text></g><text class="t" x="234.5" y="185.4" textLength="5.6" lengthAdjust="spacingAndGlyphs" style="font-size:7.2px">10</text><text class="t" x="240.4" y="182.2" textLength="3.6" lengthAdjust="spacingAndGlyphs" style="font-size:6.8px">1</text><g transform="translate(197.7,136.9) rotate(-90)"><text class="t" x="-4.8" y="0" textLength="5.9" lengthAdjust="spacingAndGlyphs" style="font-size:7.4px">10</text><text class="t" x="2.4" y="-3.5" textLength="3.4" lengthAdjust="spacingAndGlyphs" style="font-size:7px">1</text></g><text class="t" x="270.6" y="185.4" textLength="5.6" lengthAdjust="spacingAndGlyphs" style="font-size:7.2px">10</text><text class="t" x="276.5" y="182.2" textLength="3.6" lengthAdjust="spacingAndGlyphs" style="font-size:6.8px">2</text><g transform="translate(197.7,98.2) rotate(-90)"><text class="t" x="-4.8" y="0" textLength="5.9" lengthAdjust="spacingAndGlyphs" style="font-size:7.4px">10</text><text class="t" x="2.4" y="-3.5" textLength="3.4" lengthAdjust="spacingAndGlyphs" style="font-size:7px">2</text></g><text class="t" x="306.7" y="185.4" textLength="5.6" lengthAdjust="spacingAndGlyphs" style="font-size:7.2px">10</text><text class="t" x="312.6" y="182.2" textLength="3.6" lengthAdjust="spacingAndGlyphs" style="font-size:6.8px">3</text><g transform="translate(197.7,59.6) rotate(-90)"><text class="t" x="-4.8" y="0" textLength="5.9" lengthAdjust="spacingAndGlyphs" style="font-size:7.4px">10</text><text class="t" x="2.4" y="-3.5" textLength="3.4" lengthAdjust="spacingAndGlyphs" style="font-size:7px">3</text></g><text class="t" x="342.8" y="185.4" textLength="5.6" lengthAdjust="spacingAndGlyphs" style="font-size:7.2px">10</text><text class="t" x="348.7" y="182.2" textLength="3.6" lengthAdjust="spacingAndGlyphs" style="font-size:6.8px">4</text><g transform="translate(197.7,20.9) rotate(-90)"><text class="t" x="-4.8" y="0" textLength="5.9" lengthAdjust="spacingAndGlyphs" style="font-size:7.4px">10</text><text class="t" x="2.4" y="-3.5" textLength="3.4" lengthAdjust="spacingAndGlyphs" style="font-size:7px">4</text></g><path d="M435 156h1M373 152h1M417 159h1M399 168h1M424 162h1M406 154h1M435 155h1M399 150h1M388 151h1M410 164h1M407 161h1M391 161h1M393 161h1M412 153h1M412 157h1M388 161h1M391 170h1M372 159h1M432 158h1M394 151h1M425 165h1M406 155h1M437 159h1M429 160h1M404 152h1M428 160h1M379 166h1M423 151h1M373 154h1M405 151h1M419 158h1M402 173h1M391 160h1M382 167h1M391 159h1M419 154h1M416 158h1M393 159h1M373 156h1M411 157h1M373 158h1M387 153h1M383 169h1M413 161h1M403 157h1M407 153h1M403 160h1M384 152h1M409 148h1M426 155h1M397 167h1M411 156h1M395 159h1M419 150h1M411 161h1M416 153h1M405 153h1M431 152h1M391 156h1M391 149h1M386 154h1M410 156h1M386 150h1M385 143h1M421 148h1M409 143h1M373 157h1M379 157h1M377 166h1M374 167h1M390 141h1M434 153h1M392 159h1M383 147h1M412 166h1M399 160h1M400 152h1M384 153h1M398 160h1M407 173h1M372 172h1M372 147h1M420 162h1M415 146h1M388 156h1M378 150h1M394 155h1M374 154h1M401 163h1M421 156h1M394 150h1M405 168h1M426 160h1M372 156h1M391 158h1M395 163h1M404 156h1M429 153h1M412 156h1M372 153h1M393 153h1M380 169h1M380 163h1M438 167h1M377 153h1M403 144h1M384 154h1M415 161h1M405 154h1M401 159h1M396 150h1M421 161h1M379 154h1M383 157h1M376 162h1M425 152h1M392 149h1M377 151h1M390 162h1M448 155h1M396 165h1M407 166h1M398 159h1M384 166h1M391 163h1M391 143h1M373 168h1M450 164h1M416 154h1M400 148h1M394 143h1M382 158h1M417 151h1M394 149h1M408 150h1M373 145h1M406 164h1M438 151h1M392 157h1M414 159h1M420 156h1M419 164h1M399 153h1M387 173h1M404 145h1M399 163h1M386 174h1M407 150h1M407 168h1M380 173h1M396 154h1M456 169h1M414 153h1M400 160h1M448 156h1M389 150h1M372 149h1M373 146h1M403 159h1M418 158h1M372 166h1M420 160h1M403 155h1M407 174h1M407 146h1M398 147h1M401 174h1M375 166h1M404 159h1M418 161h1M417 165h1M450 146h1M420 155h1M413 163h1M431 162h1M403 166h1M372 155h1M424 153h1M409 162h1M415 157h1M436 167h1M405 148h1M376 166h1M426 145h1M376 174h1M372 160h1M373 155h1M414 165h1M400 173h1M383 168h1M396 149h1M395 157h1M387 166h1M393 162h1M383 148h1M434 159h1M372 163h1M400 151h1M378 165h1M412 169h1M393 165h1M409 156h1M402 157h1M418 155h1M372 164h1M394 158h1M406 160h1M429 155h1M420 148h1M438 159h1M379 163h1M417 160h1M375 156h1M394 166h1M415 148h1M379 170h1M407 167h1M411 158h1M399 146h1M401 165h1M372 157h1M401 155h1M379 161h1M406 153h1M407 154h1M380 167h1M410 162h1M405 164h1M397 162h1M413 166h1M392 164h1M392 152h1M400 156h1M397 170h1M421 159h1M372 171h1M392 156h1M373 147h1M387 159h1M403 154h1M398 153h1M417 152h1M404 143h1M372 162h1M375 157h1M428 151h1M428 146h1M440 163h1M372 161h1M403 163h1M396 158h1M402 147h1M373 159h1M389 164h1M418 147h1M387 154h1M372 169h1M396 148h1M398 168h1M380 145h1M394 153h1M373 164h1M401 142h1M381 158h1M400 165h1M411 152h1M416 157h1M432 163h1M406 161h1M386 157h1M407 163h1M373 160h1M388 158h1M397 164h1M407 165h1M373 161h1M390 161h1M382 163h1M397 152h1M405 149h1M378 156h1M424 150h1M392 165h1M412 158h1M417 155h1M388 162h1M385 152h1M400 157h1M373 166h1M415 166h1M405 156h1M424 157h1M391 162h1M384 169h1M396 141h1M414 144h1M402 148h1M407 156h1M396 151h1M385 133h1M377 158h1M401 145h1M401 167h1M435 158h1M389 151h1M430 155h1M405 169h1M421 154h1M380 148h1M380 138h1M416 151h1M401 166h1M413 158h1M404 165h1M402 151h1M387 164h1M408 156h1M433 156h1M395 165h1M392 172h1M411 149h1M372 154h1M428 159h1M395 153h1M373 143h1M379 169h1M417 161h1M387 158h1M384 167h1M423 166h1M446 153h1M389 161h1M421 166h1M429 161h1M378 153h1M398 146h1M376 156h1M395 150h1M374 151h1M441 161h1M406 157h1M386 162h1M433 157h1M388 143h1M412 163h1M410 153h1M420 154h1M411 139h1M394 132h1M373 153h1M397 157h1M391 164h1M395 167h1M374 166h1M441 149h1M386 168h1M413 153h1M372 148h1M408 159h1M386 156h1M394 162h1M418 163h1M413 160h1M384 150h1M425 161h1M398 162h1M417 154h1M406 165h1M387 160h1M378 155h1M409 152h1M406 156h1M422 158h1M388 169h1M426 158h1M423 142h1M409 165h1M387 157h1M379 150h1M396 140h1M393 151h1M417 169h1M384 163h1M398 154h1M437 162h1M386 160h1M393 150h1M404 153h1M385 155h1M393 174h1M393 142h1M377 170h1M388 159h1M374 160h1M400 161h1M382 142h1M478 170h1M423 147h1M425 166h1M414 154h1M399 149h1M404 149h1M407 171h1M410 154h1M429 156h1M373 162h1M387 168h1M428 153h1M402 153h1M434 162h1M397 156h1M403 169h1M377 144h1M390 156h1M399 147h1M372 146h1M411 155h1M399 165h1M398 152h1M382 162h1M431 159h1M404 155h1M396 159h1M432 153h1M454 156h1M398 163h1M454 159h1M376 161h1M415 140h1M408 158h1M425 168h1M381 163h1M401 160h1M406 145h1M421 162h1M393 156h1M395 154h1M397 161h1M372 144h1M405 145h1M414 167h1M407 159h1M410 155h1M391 152h1M397 155h1M383 167h1M423 154h1M392 171h1M379 147h1M402 155h1M385 145h1M443 168h1M407 162h1M401 161h1M382 157h1M425 160h1M414 156h1M389 146h1M401 157h1M426 153h1M385 159h1M387 167h1M428 150h1M410 157h1M389 169h1M401 148h1M402 154h1M414 163h1M394 157h1M388 165h1M389 172h1M421 132h1M403 151h1M385 157h1M393 158h1M381 170h1M404 166h1M438 155h1M434 147h1M422 166h1M414 160h1M398 171h1M389 160h1M415 168h1M401 144h1M457 167h1M380 153h1M421 149h1M410 160h1M383 154h1M399 144h1M403 150h1M414 162h1M412 152h1M385 147h1M416 136h1M374 150h1M373 149h1M397 166h1M407 172h1M390 164h1M403 170h1M441 159h1M427 155h1M417 142h1M410 152h1M388 154h1M395 169h1M392 150h1M399 158h1M400 162h1M430 157h1M377 165h1M419 157h1M397 159h1M385 169h1M411 164h1M392 141h1M403 162h1M421 152h1M397 144h1M372 158h1M395 158h1M421 165h1M405 157h1M397 154h1M389 155h1M389 157h1M372 165h1M397 169h1M375 162h1M411 151h1M430 143h1M378 163h1M421 168h1M372 142h1M407 155h1M398 169h1M400 147h1M422 153h1M409 166h1M381 160h1M399 152h1M384 151h1M427 159h1M415 154h1M410 174h1M372 143h1M400 159h1M384 149h1M405 158h1M405 150h1M411 146h1M423 152h1M372 151h1M400 146h1M423 157h1M392 160h1M401 143h1M385 142h1M399 151h1M388 144h1M387 151h1M375 140h1M408 147h1M394 154h1M394 169h1M372 167h1M409 161h1M382 155h1M388 155h1M429 150h1M396 168h1M382 168h1M373 169h1M409 160h1M412 154h1M382 153h1M419 163h1M377 160h1M413 147h1M442 144h1M423 159h1M412 173h1M381 147h1M402 144h1M403 167h1M394 152h1M376 157h1M384 162h1M421 164h1M426 168h1M414 170h1M410 163h1M375 154h1M411 173h1M405 146h1M419 168h1M434 166h1M430 159h1M416 159h1M381 161h1M372 150h1M441 158h1M396 169h1M384 158h1M398 157h1M428 157h1M408 161h1M399 162h1M408 164h1M424 158h1M411 145h1M376 155h1M401 153h1M423 148h1M415 141h1M396 161h1M421 169h1M411 162h1M382 151h1M410 147h1M387 171h1M403 168h1M419 156h1M400 158h1M409 153h1M398 151h1M389 153h1M409 164h1M375 158h1M395 152h1M379 168h1M416 149h1M392 153h1M384 159h1M404 146h1M406 159h1M413 145h1M377 167h1M399 167h1M427 169h1M397 158h1M373 171h1M386 134h1M399 171h1M453 157h1M423 164h1M402 152h1M409 167h1M396 162h1M372 145h1M415 155h1M420 172h1M405 147h1M422 154h1M386 151h1M408 157h1M400 166h1M402 166h1M396 153h1M404 151h1M376 142h1M402 165h1M405 174h1M387 147h1M420 158h1M420 157h1M418 174h1M379 153h1M373 139h1M386 164h1M374 158h1M411 166h1M420 161h1M451 166h1M440 146h1M385 172h1M384 148h1M421 153h1M435 169h1M375 146h1M448 157h1M381 168h1M402 160h1M398 164h1M400 163h1M386 146h1M414 147h1M391 155h1M427 162h1M382 145h1M432 151h1M426 164h1M414 145h1M415 152h1M383 164h1M393 166h1M399 161h1M377 162h1M425 144h1M395 161h1M376 159h1M394 156h1M399 148h1M420 151h1M382 137h1M372 170h1M385 161h1M377 157h1M401 164h1M381 165h1M416 145h1M374 163h1M380 154h1M399 157h1M416 160h1M398 158h1M409 146h1M426 165h1M380 164h1M393 152h1M425 163h1M398 161h1M404 154h1M382 156h1M422 151h1M374 161h1M415 173h1M388 164h1M374 157h1M403 173h1M395 155h1M383 163h1M402 163h1M418 143h1M442 152h1M394 164h1M413 144h1M390 163h1M386 158h1M372 141h1M422 165h1M380 168h1M415 159h1M396 155h1M408 167h1M433 173h1M396 138h1M379 159h1M386 147h1M382 146h1M386 159h1M405 173h1M427 165h1M402 145h1M416 161h1M412 149h1M401 151h1M376 152h1M378 166h1M412 164h1M388 150h1M411 172h1M427 161h1M403 146h1M389 165h1M397 153h1M399 164h1M391 151h1M421 147h1M408 137h1M373 151h1M422 170h1M387 149h1M403 158h1M414 155h1M386 161h1M383 161h1M390 158h1M389 159h1M412 155h1M381 152h1M374 174h1M406 150h1M417 168h1M411 165h1M414 157h1M372 152h1M397 149h1M392 173h1M384 147h1M374 147h1M384 144h1M412 161h1M387 170h1M413 156h1M376 165h1M415 153h1M385 167h1M381 162h1M404 144h1M409 159h1M411 160h1M379 151h1M430 164h1M447 158h1M387 152h1M382 150h1M439 158h1M388 153h1M433 154h1M459 158h1M387 163h1M378 164h1M432 159h1M389 162h1M373 163h1M400 145h1M404 157h1M383 152h1M394 167h1M392 146h1M405 167h1M391 154h1M388 141h1M400 153h1M403 153h1M407 158h1M392 151h1M383 160h1M406 148h1M395 171h1M428 147h1M412 162h1M378 174h1M412 151h1M392 162h1M415 165h1M438 162h1M390 155h1M443 156h1M384 168h1M387 165h1M421 155h1M411 150h1M385 149h1M427 160h1M418 157h1M384 160h1M383 159h1M408 165h1M409 163h1M407 157h1M430 156h1M385 150h1M440 156h1M385 151h1M381 151h1M421 171h1M425 147h1M402 156h1M412 145h1M465 162h1M406 152h1M409 168h1M397 160h1M377 154h1M408 146h1M390 168h1M398 136h1M399 174h1M373 150h1M425 149h1M408 153h1M412 168h1M389 140h1M374 162h1M412 167h1M382 166h1M410 144h1M384 164h1M381 169h1M372 168h1M430 151h1M411 144h1M387 144h1M422 155h1M380 151h1M430 158h1M422 159h1M405 165h1M377 159h1M383 166h1M407 148h1M408 154h1M406 136h1M398 149h1M424 161h1M444 167h1M413 154h1M393 170h1M385 174h1M452 163h1M389 167h1M405 152h1M389 168h1M417 149h1M409 149h1M426 163h1M390 165h1M376 169h1M386 166h1M415 160h1M393 145h1M400 141h1M436 150h1M396 166h1M390 157h1M396 156h1M377 156h1M384 146h1M378 167h1M389 158h1M430 160h1M396 160h1M405 161h1M404 161h1M439 147h1M395 149h1M382 149h1M403 149h1M405 155h1M408 162h1M391 153h1M394 147h1M432 164h1M386 153h1M409 136h1M380 170h1M377 173h1M383 150h1M393 149h1M418 164h1M428 155h1M406 162h1M401 152h1M414 152h1M376 160h1M399 137h1M384 173h1M427 149h1M401 149h1M412 143h1M390 166h1M387 155h1M423 171h1M376 140h1M375 165h1M382 164h1M417 163h1M392 158h1M445 168h1M432 149h1M440 168h1M424 145h1M419 160h1M402 162h1M407 164h1M397 148h1M390 152h1M382 147h1M421 140h1M377 171h1M409 154h1M386 144h1M435 157h1M410 150h1M388 145h1M438 154h1M406 167h1M427 151h1M408 135h1M387 162h1M388 146h1M380 149h1M418 153h1M414 150h1M417 147h1M426 152h1M373 165h1M382 173h1M403 171h1M388 168h1M387 161h1M416 155h1M439 166h1M376 170h1M413 173h1M406 170h1M426 141h1M401 150h1M410 161h1M428 164h1M390 167h1M386 145h1M402 150h1M416 167h1M400 154h1M405 160h1M412 159h1M412 160h1M422 168h1M424 148h1M381 142h1M395 143h1M411 159h1M430 139h1M379 145h1M415 158h1M407 144h1M381 167h1M377 150h1M397 174h1M404 172h1M381 146h1M381 153h1M379 155h1M402 161h1M392 168h1M437 167h1M423 163h1M410 165h1M418 167h1M382 172h1M377 148h1M379 165h1M399 156h1M379 146h1M453 156h1M395 144h1M415 150h1M413 155h1M393 160h1M396 173h1M402 169h1M416 171h1M372 140h1M385 166h1M396 164h1M384 161h1M420 149h1M394 170h1M420 152h1M396 167h1M393 144h1M398 150h1M431 158h1M398 166h1M399 159h1M416 163h1M409 155h1M433 169h1M396 171h1M425 162h1M442 162h1M375 161h1M401 154h1M400 150h1M375 142h1M397 142h1M391 167h1M379 152h1M470 151h1M386 152h1M423 156h1M385 156h1M408 149h1M418 165h1M423 149h1M393 163h1M403 174h1M422 143h1M396 144h1M397 150h1M425 154h1M416 152h1M378 171h1M398 167h1M432 155h1M430 170h1M414 158h1M429 173h1M409 158h1M397 151h1M376 150h1M397 147h1M424 152h1M387 156h1M425 159h1M407 151h1M393 139h1M419 166h1M413 164h1M429 168h1M403 165h1M410 151h1M389 147h1M388 157h1M430 162h1M377 169h1M417 140h1M429 164h1M402 164h1M438 160h1M414 149h1M386 148h1M421 174h1M425 150h1M457 158h1M430 165h1M421 163h1M413 162h1M444 132h1M382 160h1M378 157h1M397 171h1M388 149h1M385 144h1M431 163h1M425 151h1M411 168h1M433 152h1M401 158h1M383 142h1M375 159h1M387 150h1M417 150h1M399 145h1M416 138h1M418 151h1M397 145h1M372 139h1M415 145h1M376 164h1M398 156h1M380 141h1M418 159h1M397 140h1M407 138h1M401 168h1M398 145h1M395 151h1M422 162h1M378 169h1M409 150h1M388 148h1M373 148h1M410 148h1M418 141h1M381 155h1M386 155h1M431 156h1M382 143h1M423 165h1M389 144h1M413 159h1M441 150h1M381 173h1M423 155h1M434 154h1M418 149h1M437 164h1M387 174h1M397 168h1M439 157h1M442 159h1M399 166h1M381 157h1M414 174h1M429 166h1M383 151h1M396 174h1M378 148h1M425 153h1M403 156h1M418 160h1M392 155h1M430 150h1M381 140h1M391 150h1M404 173h1M413 138h1M376 147h1M433 149h1M404 160h1M442 167h1M377 164h1M380 152h1M431 151h1M412 146h1M377 163h1M400 149h1M444 142h1M380 147h1M428 173h1M430 152h1M434 163h1M380 155h1M385 163h1M443 158h1M390 154h1M441 156h1M422 148h1M385 171h1M419 161h1M374 138h1M383 155h1M381 150h1M430 154h1M419 152h1M418 156h1M395 145h1M398 170h1M399 155h1M388 160h1M419 169h1M380 160h1M408 155h1M391 147h1M411 170h1M385 148h1M445 160h1M390 147h1M437 141h1M380 159h1M418 170h1M442 164h1M407 152h1M379 160h1M412 150h1M418 146h1M439 160h1M383 162h1M378 159h1M410 173h1M398 165h1M447 164h1M380 157h1M432 174h1M379 141h1M374 165h1M393 171h1M410 149h1M423 174h1M428 161h1M422 157h1M440 164h1M426 161h1M390 153h1M432 161h1M391 145h1M426 148h1M384 157h1M424 164h1M388 174h1M389 174h1M395 174h1M390 159h1M396 146h1M406 146h1M381 174h1M429 159h1M380 144h1M413 174h1M427 153h1M388 172h1M424 151h1M399 169h1M448 174h1M414 148h1M374 170h1M408 169h1M379 174h1M393 164h1M420 170h1M410 171h1M396 170h1M434 172h1M435 154h1M393 157h1M400 155h1M408 172h1M415 172h1M422 163h1M400 164h1M409 173h1M431 170h1M418 144h1M414 169h1M415 169h1M373 174h1M394 160h1M420 144h1M424 174h1M449 170h1M419 148h1M387 143h1M397 165h1M390 170h1M415 151h1M421 170h1M373 173h1M422 144h1M379 167h1M425 171h1M392 144h1M384 156h1M380 161h1M402 167h1M445 172h1M432 154h1M399 172h1M406 174h1M420 150h1M419 155h1M385 162h1M392 145h1M375 145h1M409 157h1M432 160h1M415 174h1M426 143h1M462 167h1M449 145h1M423 168h1M398 174h1M382 174h1M411 174h1M430 171h1M425 156h1M398 173h1M427 158h1M395 172h1M431 147h1M453 162h1M376 158h1M412 171h1M393 147h1M407 149h1M428 168h1M377 152h1M401 162h1M384 174h1M405 171h1M390 146h1M424 168h1M422 146h1M416 150h1M443 163h1M395 156h1M406 158h1M381 171h1M391 174h1M404 147h1M393 146h1M407 145h1M393 173h1M390 174h1M375 144h1M383 170h1M372 174h1M413 170h1M450 148h1M390 148h1M440 174h1M410 169h1M404 174h1M419 153h1M394 163h1M419 144h1M430 167h1M394 173h1M383 173h1M427 147h1M392 167h1M372 173h1M422 161h1M385 164h1M386 173h1M388 170h1M380 171h1M402 149h1M415 144h1M417 146h1M447 145h1M398 155h1M428 167h1M375 171h1M381 172h1M389 170h1M411 171h1M395 160h1M402 174h1M414 146h1M412 144h1M374 145h1M395 148h1M432 166h1M428 144h1M383 158h1M393 154h1M418 150h1M408 143h1M401 156h1M381 156h1M396 152h1M373 170h1M383 174h1M373 167h1M377 161h1M392 148h1M382 152h1M378 168h1M396 145h1M419 173h1M378 152h1M445 153h1M435 174h1M455 165h1M404 163h1M410 166h1M380 146h1M409 172h1M408 173h1M401 170h1M434 174h1M437 172h1M443 144h1M429 143h1M392 166h1M375 173h1M396 147h1M437 143h1M392 163h1M441 162h1M443 173h1M378 143h1M389 149h1M381 148h1M410 170h1M437 166h1M378 172h1M381 144h1M410 167h1M419 147h1M401 172h1M462 148h1M388 167h1M424 167h1M442 160h1M440 151h1M409 174h1M436 159h1M437 168h1M434 173h1M418 152h1M429 172h1M430 146h1M424 169h1M418 145h1M405 143h1M382 159h1M392 161h1M381 143h1M383 171h1M437 171h1M423 158h1M375 152h1M408 166h1M389 171h1M441 154h1M419 170h1M394 168h1M434 152h1M385 160h1M377 149h1M375 147h1M411 153h1M395 164h1M390 160h1M386 171h1M427 174h1M424 172h1M386 167h1M426 144h1M412 174h1M397 146h1M405 163h1M438 174h1M445 158h1M418 139h1M439 153h1M423 144h1M440 161h1M423 150h1M427 156h1M444 150h1M428 154h1M424 160h1M433 150h1M421 145h1M428 149h1M451 167h1M449 147h1M456 151h1M436 169h1M429 163h1M436 160h1M447 142h1M435 153h1M437 150h1M422 156h1M433 146h1M419 143h1M433 161h1M440 158h1M428 162h1M432 150h1M426 162h1M433 162h1M430 153h1M448 162h1M421 157h1M441 163h1M444 148h1M440 147h1M433 158h1M440 169h1M448 153h1M432 140h1M416 146h1M426 166h1M456 165h1M431 153h1M431 155h1M437 146h1M435 150h1M422 147h1M423 161h1M431 160h1M436 155h1M426 154h1M435 161h1M428 148h1M429 146h1M430 168h1M426 167h1M420 165h1M419 151h1M431 157h1M418 154h1M470 153h1M421 167h1M443 147h1M426 159h1M427 143h1M443 143h1M417 158h1M454 155h1M458 151h1M435 147h1M448 154h1M421 137h1M476 158h1M434 150h1M434 133h1M453 164h1M436 148h1M420 164h1M448 148h1M438 169h1M422 149h1M433 148h1M425 158h1M438 149h1M416 135h1M484 152h1M428 152h1M444 153h1M415 162h1M420 166h1M426 151h1M440 155h1M433 153h1M425 145h1M492 160h1M476 156h1M437 156h1M425 148h1M436 151h1M432 141h1M450 136h1M431 141h1M441 155h1M439 154h1M468 169h1M438 156h1M443 166h1M454 143h1M422 173h1M463 170h1M447 149h1M435 152h1M418 173h1M433 159h1M420 141h1M450 149h1M431 169h1M469 141h1M478 152h1M466 165h1M470 163h1M469 170h1M476 171h1M472 161h1M467 139h1M477 173h1M470 143h1M469 172h1M457 137h1M482 137h1M460 169h1M467 172h1M474 166h1M473 167h1M469 156h1M478 160h1M454 142h1M476 143h1M465 166h1M481 155h1M479 140h1M469 168h1M479 138h1M475 146h1M474 154h1M467 143h1M474 144h1M478 163h1M479 164h1M471 160h1M474 141h1M474 160h1M467 169h1M472 138h1M474 157h1M479 159h1M481 142h1M479 173h1M479 146h1M464 171h1M469 162h1M460 173h1M468 175h1M473 159h1M474 174h1M464 160h1M486 155h1M470 155h1M479 150h1M478 162h1M472 171h1M470 172h1M466 166h1M480 170h1M471 155h1M481 152h1M497 157h1M484 147h1M476 150h1M471 152h1M484 162h1M473 144h1M471 143h1M469 163h1M480 143h1M491 154h1M486 156h1M470 138h1M487 144h1M476 169h1M483 155h1M477 172h1M480 148h1M469 143h1M478 156h1M475 142h1M476 172h1M470 162h1M475 155h1M468 152h1M482 155h1M475 162h1M482 138h1M475 140h1M472 170h1M482 144h1M475 164h1M480 165h1M474 171h1M472 149h1M483 152h1M464 166h1M471 146h1M479 165h1M484 161h1M474 168h1M470 142h1M481 148h1M476 138h1M473 173h1M481 139h1M470 161h1M475 149h1M464 172h1M461 138h1M470 168h1M459 174h1M479 168h1M471 139h1M478 154h1M472 153h1M480 141h1M473 151h1M469 147h1M477 171h1M483 157h1M478 175h1M472 141h1M488 138h1M475 145h1M481 164h1M465 145h1M479 148h1M473 166h1M479 161h1M470 148h1M477 159h1M477 151h1M483 159h1M475 150h1M477 166h1M472 143h1M479 147h1M468 146h1M478 169h1M479 158h1M482 141h1M473 160h1M480 147h1M486 149h1M473 150h1M472 163h1M485 157h1M492 156h1M471 161h1M474 138h1M479 152h1M476 168h1M470 175h1M467 166h1M477 148h1M468 149h1M476 163h1M474 147h1M471 158h1M481 153h1M472 145h1M477 154h1M483 145h1M468 138h1M475 147h1M473 138h1M473 172h1M474 145h1M469 161h1M482 167h1M471 174h1M469 167h1M471 171h1M467 168h1M467 146h1M480 174h1M472 150h1M468 156h1M473 139h1M477 160h1M473 168h1M478 167h1M473 162h1M474 137h1M480 163h1M481 145h1M472 155h1M471 166h1M473 145h1M477 144h1M480 155h1M470 140h1M476 155h1M477 164h1M472 175h1M490 155h1M469 153h1M479 160h1M480 166h1M471 145h1M473 163h1M470 139h1M476 151h1M485 141h1M477 162h1M470 149h1M479 171h1M478 166h1M475 166h1M479 169h1M478 172h1M468 158h1M476 170h1M467 160h1M478 174h1M466 174h1M475 144h1M480 149h1M482 139h1M475 148h1M472 142h1M465 157h1M468 170h1M475 172h1M467 171h1M482 150h1M473 137h1M470 170h1M465 172h1M480 171h1M473 158h1M478 161h1M489 155h1M478 146h1M472 169h1M485 158h1M471 159h1M473 154h1M476 175h1M470 164h1M475 156h1M465 163h1M480 150h1M467 167h1M475 174h1M468 164h1M468 147h1M454 161h1M479 137h1M467 162h1M474 172h1M473 157h1M476 161h1M476 154h1M474 139h1M481 172h1M472 162h1M475 167h1M485 168h1M486 151h1M489 169h1M475 158h1M468 144h1M478 144h1M478 158h1M469 157h1M495 167h1M472 158h1M472 151h1M474 163h1M475 169h1M476 159h1M473 146h1M473 143h1M479 143h1M475 168h1M463 149h1M472 140h1M474 143h1M476 162h1M476 144h1M483 174h1M476 174h1M491 168h1M475 143h1M481 161h1M473 142h1M486 164h1M464 169h1M456 147h1M477 140h1M471 147h1M474 167h1M466 157h1M466 141h1M465 171h1M480 157h1M479 155h1M467 156h1M485 160h1M467 157h1M473 175h1M473 155h1M480 139h1M476 153h1M487 145h1M473 141h1M473 169h1M468 173h1M478 157h1M476 157h1M467 174h1M460 139h1M467 159h1M477 169h1M473 161h1M486 163h1M477 141h1M479 172h1M474 148h1M483 149h1M469 151h1M477 147h1M478 145h1M476 148h1M476 166h1M476 165h1M479 163h1M471 142h1M476 140h1M471 164h1M477 174h1M462 170h1M469 160h1M468 154h1M468 150h1M473 156h1M482 148h1M477 149h1M473 153h1M470 174h1M469 166h1M477 143h1M484 154h1M473 140h1M483 160h1M464 151h1M489 148h1M468 160h1M463 163h1M475 151h1M485 154h1M472 157h1M469 158h1M466 164h1M463 141h1M467 165h1M479 153h1M452 147h1M470 150h1M454 175h1M475 139h1M475 154h1M472 166h1M469 145h1M478 137h1M472 174h1M461 142h1M464 142h1M484 159h1M474 146h1M468 174h1M476 152h1M471 138h1M472 154h1M478 142h1M471 167h1M475 141h1M473 165h1M477 145h1M476 146h1M472 146h1M478 171h1M485 144h1M464 148h1M463 151h1M474 151h1M491 161h1M465 146h1M465 149h1M477 146h1M475 161h1M474 152h1M473 152h1M472 139h1M482 142h1M462 166h1M477 170h1M475 137h1M473 174h1M487 139h1M481 159h1M480 151h1M481 173h1M474 165h1M475 157h1M463 148h1M470 157h1M467 142h1M471 154h1M482 149h1M479 156h1M465 169h1M478 143h1M470 158h1M485 139h1M481 162h1M475 163h1M486 165h1M480 160h1M487 172h1M475 170h1M466 143h1M477 165h1M468 162h1M466 161h1M484 149h1M465 142h1M483 173h1M480 169h1M474 155h1M484 160h1M476 141h1M470 166h1M477 150h1M481 166h1M477 138h1M487 140h1M485 170h1M462 140h1M476 164h1M463 157h1M464 145h1M463 153h1M477 157h1M472 147h1M472 173h1M476 173h1M459 173h1M476 145h1M482 153h1M467 158h1M477 137h1M478 153h1M479 154h1M496 138h1M466 169h1M490 172h1M483 166h1M464 144h1M480 152h1M496 145h1M470 154h1M460 157h1M467 155h1M477 168h1M474 170h1M484 151h1M473 170h1M466 167h1M487 164h1M478 150h1M470 167h1M476 167h1M474 159h1M476 149h1M488 158h1M471 148h1M474 173h1M479 167h1M485 159h1M472 168h1M480 173h1M472 165h1M469 154h1M468 137h1M475 159h1M475 152h1M471 175h1M472 148h1M469 165h1M477 152h1M467 137h1M483 147h1M470 145h1M470 169h1M478 140h1M471 172h1M491 149h1M481 170h1M468 148h1M479 166h1M465 156h1M483 150h1M471 156h1M469 144h1M477 175h1M482 168h1M475 160h1M479 144h1M481 156h1M481 167h1M482 146h1M474 149h1M453 150h1M480 167h1M471 168h1M471 144h1M482 147h1M474 142h1M466 155h1M483 164h1M486 138h1M477 156h1M478 173h1M481 146h1M462 168h1M484 139h1M470 156h1M478 147h1M471 170h1M472 159h1M466 156h1M486 139h1M479 149h1M481 150h1M483 154h1M471 137h1M470 147h1M481 174h1M470 159h1M485 150h1M468 159h1M474 153h1M481 151h1M473 171h1M467 163h1M486 169h1M491 138h1M451 170h1M465 150h1M476 160h1M482 158h1M478 138h1M469 155h1M458 157h1M475 153h1M468 161h1M476 142h1M491 150h1M477 126h1M472 131h1M471 124h1M475 134h1M476 127h1M470 117h1M479 135h1M473 135h1M479 142h1M473 134h1M472 133h1M470 129h1M478 135h1M476 132h1M467 132h1M469 136h1M473 132h1M469 130h1M481 134h1M466 128h1M474 131h1M475 127h1M481 128h1M457 135h1M469 133h1M481 123h1M480 132h1M477 142h1M476 135h1M469 140h1M478 124h1M462 141h1M469 134h1M470 131h1M476 131h1M460 126h1M473 136h1M468 131h1M470 133h1M506 142h1M479 130h1M475 130h1M487 134h1M472 127h1M472 129h1M478 126h1M473 126h1M486 131h1M470 132h1M467 147h1M476 130h1M470 130h1M476 128h1M475 131h1M484 132h1M471 136h1M478 133h1M479 125h1M472 128h1M474 136h1M477 122h1M472 130h1M496 126h1M472 125h1M480 123h1M492 134h1M465 126h1M476 136h1M483 133h1M477 136h1M471 131h1M475 124h1M463 124h1M480 137h1M465 133h1M487 129h1M480 131h1M491 135h1M477 129h1M478 127h1M489 136h1M473 131h1M471 133h1M478 132h1M501 142h1M478 165h1M477 167h1M463 173h1M474 169h1M462 172h1M472 156h1M480 154h1M475 175h1M481 168h1M475 173h1M474 162h1M459 160h1M471 173h1M471 165h1M480 172h1M466 138h1M466 168h1M475 171h1M473 147h1M495 150h1M482 157h1M485 167h1M478 168h1M485 162h1M463 155h1M478 141h1M477 155h1M468 165h1M469 159h1M450 167h1M462 156h1M479 151h1M467 164h1M461 151h1M471 162h1M484 138h1M480 164h1M464 162h1M479 170h1M472 144h1M456 148h1M473 148h1M470 165h1M470 171h1M464 165h1M469 169h1M481 169h1M471 151h1M483 169h1M473 164h1M489 168h1M464 163h1M489 161h1M468 163h1M482 152h1M476 122h1M483 171h1M478 149h1M474 161h1M477 158h1M474 130h1M484 163h1M482 154h1M480 161h1M466 159h1M479 127h1M447 167h1M450 154h1M493 146h1M468 168h1M475 165h1M482 166h1M462 165h1M478 164h1M462 122h1M481 163h1M470 160h1M467 153h1M470 152h1M474 164h1M486 167h1M468 166h1M473 107h1M476 60h1M474 95h1M489 91h1M473 78h1M480 54h1M470 111h1M479 51h1M484 72h1M471 72h1M480 48h1M470 100h1M478 71h1M494 70h1M475 106h1M470 81h1M472 84h1M486 59h1M478 106h1M469 84h1M475 78h1M468 78h1M484 92h1M478 63h1M474 100h1M476 93h1M466 65h1M480 55h1M472 107h1M479 94h1M478 99h1M464 50h1M473 91h1M484 101h1M462 91h1M485 61h1M474 65h1M477 109h1M476 61h1M478 77h1M477 58h1M486 70h1M476 54h1M486 48h1M490 47h1M473 52h1M485 48h1M477 110h1M475 67h1M478 74h1M480 91h1M487 66h1M482 52h1M480 51h1M479 103h1M483 71h1M473 70h1M466 80h1M471 94h1M501 55h1M482 48h1M478 81h1M470 64h1M473 88h1M469 106h1M478 64h1M472 81h1M477 80h1M473 92h1M481 73h1M476 73h1M467 100h1M486 67h1M474 81h1M485 62h1M474 93h1M474 104h1M486 56h1M479 81h1M476 68h1M474 99h1M473 83h1M456 99h1M479 60h1M482 55h1M478 78h1M475 51h1M476 88h1M474 106h1M483 104h1M479 62h1M474 69h1M477 53h1M474 78h1M462 109h1M478 89h1M470 67h1M479 76h1M466 96h1M469 70h1M480 47h1M478 96h1M468 55h1M483 65h1M470 79h1M486 101h1M467 71h1M483 49h1M477 64h1M478 100h1M476 75h1M476 99h1M457 52h1M482 61h1M491 95h1M486 83h1M474 51h1M472 86h1M470 99h1M477 102h1M478 56h1M481 98h1M476 98h1M474 87h1M474 58h1M469 101h1M472 80h1M473 81h1M477 99h1M478 110h1M477 105h1M481 94h1M477 97h1M479 101h1M473 75h1M475 56h1M472 83h1M473 86h1M468 96h1M492 47h1M475 98h1M472 103h1M480 92h1M472 94h1M474 70h1M477 54h1M476 70h1M474 83h1M478 73h1M475 109h1M487 77h1M477 72h1M480 65h1M482 103h1M479 87h1M484 109h1M484 102h1M480 56h1M478 84h1M484 56h1M466 75h1M481 89h1M467 107h1M468 111h1M471 74h1M484 57h1M475 92h1M474 94h1M479 58h1M472 79h1M463 95h1M481 62h1M469 77h1M471 64h1M477 48h1M478 72h1M481 102h1M478 67h1M485 56h1M475 61h1M477 112h1M469 92h1M476 97h1M475 53h1M469 97h1M483 82h1M479 55h1M477 84h1M477 85h1M473 90h1M477 104h1M473 79h1M473 80h1M473 76h1M473 87h1M461 110h1M465 69h1M476 77h1M474 84h1M485 52h1M475 54h1M475 112h1M470 72h1M477 92h1M480 67h1M480 106h1M478 111h1M488 57h1M472 54h1M474 66h1M472 75h1M493 65h1M459 74h1M482 53h1M476 63h1M475 80h1M484 88h1M477 60h1M474 102h1M480 52h1M479 96h1M475 50h1M470 47h1M476 57h1M479 79h1M473 89h1M480 87h1M470 96h1M476 55h1M480 66h1M470 103h1M468 109h1M478 53h1M470 110h1M471 73h1M470 73h1M479 85h1M476 90h1M485 50h1M468 93h1M473 102h1M467 110h1M472 70h1M481 48h1M470 66h1M465 81h1M476 82h1M471 107h1M471 52h1M485 109h1M484 52h1M485 110h1M471 68h1M470 104h1M478 52h1M475 107h1M472 56h1M483 55h1M474 91h1M479 107h1M472 98h1M477 71h1M488 46h1M473 105h1M478 61h1M478 46h1M465 65h1M478 103h1M470 88h1M463 110h1M485 99h1M472 109h1M488 70h1M475 68h1M480 110h1M481 79h1M482 70h1M472 90h1M483 60h1M475 60h1M474 103h1M472 66h1M470 80h1M481 87h1M486 74h1M477 88h1M473 72h1M488 85h1M482 57h1M486 93h1M470 109h1M477 76h1M469 73h1M492 53h1M469 90h1M475 49h1M473 47h1M482 71h1M473 63h1M489 71h1M480 73h1M477 90h1M469 62h1M472 92h1M474 110h1M477 93h1M478 107h1M478 47h1M476 86h1M483 111h1M476 91h1M479 64h1M456 75h1M479 52h1M473 53h1M470 84h1M469 103h1M470 75h1M510 50h1M474 59h1M472 87h1M471 67h1M474 98h1M476 50h1M461 79h1M480 60h1M467 109h1M480 71h1M468 92h1M463 104h1M478 88h1M475 100h1M472 57h1M467 70h1M484 55h1M466 104h1M473 103h1M483 92h1M470 68h1M477 56h1M480 83h1M473 82h1M479 93h1M484 48h1M482 72h1M479 63h1M458 91h1M470 90h1M488 51h1M469 72h1M473 98h1M468 83h1M465 106h1M472 59h1M484 75h1M477 83h1M481 74h1M492 51h1M481 83h1M470 83h1M477 68h1M480 104h1M478 80h1M468 90h1M486 61h1M475 97h1M473 77h1M478 95h1M470 58h1M474 46h1M464 59h1M484 98h1M490 61h1M467 95h1M475 63h1M481 54h1M477 46h1M476 84h1M472 64h1M483 97h1M480 77h1M458 72h1M477 79h1M484 53h1M463 111h1M469 108h1M473 93h1M472 78h1M479 104h1M483 77h1M478 85h1M483 100h1M472 99h1M479 109h1M469 96h1M471 69h1M478 65h1M475 93h1M480 63h1M478 75h1M483 46h1M481 76h1M474 73h1M488 67h1M475 102h1M487 47h1M475 81h1M478 76h1M479 53h1M477 67h1M475 69h1M481 69h1M481 56h1M477 108h1M474 48h1M459 95h1M482 77h1M480 76h1M471 95h1M471 60h1M481 53h1M483 70h1M481 59h1M467 106h1M476 81h1M474 101h1M469 111h1M478 51h1M477 47h1M474 107h1M480 107h1M483 64h1M496 47h1M481 111h1M468 85h1M483 91h1M472 101h1M471 90h1M474 97h1M473 94h1M481 50h1M476 112h1M468 94h1M476 95h1M471 110h1M481 63h1M483 72h1M468 59h1M475 83h1M482 87h1M469 100h1M479 102h1M478 49h1M471 86h1M474 63h1M465 102h1M467 105h1M478 102h1M475 89h1M482 79h1M486 107h1M478 98h1M476 107h1M477 62h1M482 47h1M476 48h1M464 101h1M472 53h1M472 96h1M475 74h1M481 61h1M479 112h1M472 105h1M480 49h1M467 77h1M477 103h1M477 100h1M478 70h1M465 46h1M467 72h1M491 49h1M474 82h1M477 70h1M455 93h1M483 54h1M486 71h1M470 63h1M467 76h1M481 99h1M479 84h1M479 78h1M484 73h1M467 103h1M485 67h1M494 55h1M483 56h1M476 80h1M478 83h1M482 101h1M485 94h1M463 73h1M480 85h1M472 85h1M473 95h1M473 74h1M471 85h1M477 55h1M475 59h1M474 92h1M475 94h1M482 66h1M479 68h1M482 59h1M475 47h1M469 64h1M466 51h1M478 86h1M474 108h1M479 72h1M467 81h1M477 66h1M485 49h1M463 65h1M468 54h1M472 93h1M488 50h1M473 100h1M478 79h1M482 94h1M483 59h1M468 95h1M480 58h1M467 80h1M470 71h1M475 88h1M483 107h1M478 58h1M471 57h1M475 58h1M477 106h1M471 97h1M475 96h1M474 105h1M481 58h1M472 100h1M477 50h1M481 109h1M476 96h1M475 70h1M470 77h1M472 58h1M482 108h1M475 71h1M469 55h1M483 58h1M474 80h1M476 102h1M490 94h1M482 56h1M476 47h1M455 56h1M476 64h1M463 101h1M472 68h1M481 105h1M475 103h1M484 79h1M474 74h1M476 108h1M485 70h1M481 101h1M480 95h1M457 103h1M479 82h1M468 104h1M479 57h1M477 57h1M496 92h1M476 85h1M490 66h1M466 90h1M472 63h1M483 95h1M478 66h1M478 59h1M483 61h1M487 52h1M476 71h1M468 67h1M494 68h1M482 111h1M453 84h1M478 109h1M472 69h1M480 103h1M479 106h1M474 71h1M480 70h1M464 107h1M475 66h1M453 99h1M483 94h1M475 86h1M476 59h1M486 53h1M489 100h1M473 109h1M473 51h1M478 82h1M479 99h1M464 88h1M469 107h1M480 109h1M483 67h1M472 77h1M496 67h1M479 50h1M471 109h1M483 53h1M479 97h1M475 62h1M472 82h1M467 96h1M470 76h1M499 69h1M480 59h1M476 87h1M474 52h1M465 87h1M486 52h1M484 76h1M485 100h1M468 80h1M471 82h1M458 61h1M477 61h1M467 86h1M479 88h1M482 65h1M483 99h1M474 49h1M488 55h1M468 77h1M477 89h1M482 106h1M471 104h1M472 50h1M482 91h1M476 106h1M474 90h1M472 62h1M490 75h1M482 50h1M470 87h1M479 110h1M481 91h1M479 70h1M472 67h1M480 90h1M475 105h1M470 92h1M471 111h1M474 56h1M469 94h1M469 69h1M474 67h1M471 55h1M473 59h1M486 81h1M476 104h1M478 55h1M473 55h1M481 84h1M484 96h1M473 67h1M480 62h1M480 53h1M465 84h1M479 59h1M465 99h1M486 51h1M475 111h1M481 80h1M496 103h1M468 112h1M480 74h1M477 75h1M465 93h1M470 53h1M476 110h1M478 60h1M479 105h1M465 103h1M479 75h1M473 96h1M471 87h1M470 78h1M483 84h1M501 105h1M483 47h1M462 63h1M467 54h1M477 59h1M471 80h1M484 106h1M484 70h1M470 107h1M480 82h1M485 73h1M484 95h1M474 85h1M481 77h1M489 108h1M483 39h1M481 22h1M481 40h1M472 38h1M475 22h1M478 54h1M474 41h1M481 67h1M466 58h1M498 26h1M488 25h1M484 38h1M511 34h1M494 23h1M479 34h1M475 23h1M485 27h1M480 26h1M488 26h1M472 24h1M490 42h1M475 108h1M466 42h1M478 50h1M473 41h1M474 31h1M484 23h1M474 89h1M468 60h1M483 28h1M479 24h1M479 46h1M458 56h1M472 31h1M482 27h1M481 27h1M468 41h1M482 43h1M470 82h1M469 24h1M481 42h1M476 30h1M485 37h1M481 34h1M473 39h1M426 37h1M467 24h1M485 26h1M494 34h1M479 38h1M478 33h1M494 32h1M496 22h1M482 45h1M481 47h1M497 29h1M490 25h1M468 63h1M484 87h1M469 35h1M476 65h1M486 50h1M476 38h1M475 55h1M503 25h1M481 51h1M448 64h1M488 23h1M477 22h1M455 49h1M462 43h1M476 53h1M468 31h1M475 30h1M486 66h1M484 45h1M460 22h1M482 62h1M468 39h1M478 34h1M486 33h1M473 32h1M477 35h1M481 44h1M498 22h1M485 40h1M475 29h1M480 22h1M456 25h1M493 37h1M490 48h1M487 55h1M474 29h1M478 57h1M463 23h1M500 23h1M480 25h1M469 38h1M453 66h1M461 29h1M484 42h1M476 66h1M482 34h1M487 45h1M490 59h1M495 24h1M462 69h1M481 64h1M483 44h1M478 41h1M470 23h1M486 36h1M469 34h1M470 34h1M504 23h1M491 22h1M453 22h1M488 64h1M481 93h1M469 30h1M468 36h1M483 22h1M487 38h1M475 33h1M483 23h1M486 25h1M464 62h1M494 64h1M484 49h1M491 23h1M474 23h1M504 38h1M483 34h1M483 27h1M479 54h1M465 34h1M477 51h1M491 42h1M471 23h1M472 27h1M482 46h1M454 47h1M477 24h1M484 22h1M474 42h1M476 25h1M463 27h1M487 63h1M492 46h1M476 24h1M475 26h1M474 25h1M475 42h1M489 29h1M475 75h1M480 27h1M470 29h1M490 22h1M474 57h1M492 52h1M470 32h1M485 32h1M489 50h1M480 29h1M472 72h1M477 40h1M495 28h1M487 48h1M479 25h1M494 69h1M492 39h1M495 33h1M486 47h1M474 27h1M487 23h1M481 55h1M482 31h1M479 66h1M484 31h1M477 37h1M484 80h1M487 25h1M486 27h1M504 24h1M483 43h1M474 37h1M485 55h1M477 36h1M471 30h1M468 33h1M483 83h1M468 62h1M481 23h1M464 38h1M487 35h1M464 30h1M463 53h1M485 24h1M470 74h1M433 30h1M443 64h1M494 67h1M477 29h1M470 69h1M482 49h1M469 26h1M467 48h1M466 78h1M484 64h1M485 51h1M475 39h1M488 44h1M488 22h1M487 29h1M475 43h1M490 34h1M471 27h1M473 25h1M478 23h1M462 41h1M460 24h1M476 33h1M466 30h1M466 57h1M485 64h1M461 49h1M471 76h1M487 86h1M491 33h1M485 22h1M478 38h1M484 24h1M491 43h1M479 36h1M500 25h1M478 44h1M480 68h1M496 23h1M480 35h1M476 39h1M473 22h1M500 41h1M480 46h1M489 36h1M479 35h1M468 45h1M511 54h1M442 49h1M471 22h1M412 58h1M480 24h1M477 41h1M476 27h1M468 75h1M472 71h1M477 23h1M477 69h1M485 31h1M492 26h1M476 56h1M445 47h1M484 25h1M469 61h1M498 37h1M492 36h1M493 28h1M488 35h1M496 43h1M470 24h1M480 111h1M478 42h1M467 38h1M492 27h1M477 25h1M484 39h1M489 48h1M466 68h1M472 33h1M476 49h1M467 43h1M490 54h1M492 29h1M486 28h1M471 25h1M473 33h1M467 45h1M464 31h1M488 72h1M507 43h1M476 32h1M486 105h1M470 39h1M480 38h1M479 22h1M482 54h1M483 75h1M489 43h1M467 30h1M483 24h1M478 32h1M470 28h1M480 30h1M483 25h1M472 23h1M477 27h1M441 59h1M476 40h1M467 46h1M474 40h1M485 42h1M474 44h1M486 69h1M472 41h1M479 56h1M469 41h1M473 29h1M466 37h1M498 78h1M466 54h1M477 49h1M477 42h1M470 41h1M483 63h1M485 33h1M476 41h1M480 44h1M489 26h1M474 28h1M486 22h1M487 36h1M472 44h1M472 34h1M470 40h1M483 36h1M483 50h1M483 32h1M484 28h1M486 37h1M489 52h1M488 30h1M484 65h1M468 76h1M469 48h1M493 30h1M469 83h1M485 36h1M484 47h1M477 44h1M469 63h1M464 52h1M491 26h1M511 59h1M491 36h1M477 30h1M477 91h1M443 86h1M485 60h1M489 22h1M481 29h1M490 40h1M483 45h1M478 31h1M476 22h1M441 23h1M480 69h1M464 80h1M480 45h1M473 24h1M484 36h1M486 43h1M470 30h1M495 22h1M488 24h1M482 24h1M486 45h1M488 48h1M465 27h1M445 30h1M483 35h1M473 43h1M484 29h1M466 35h1M486 26h1M497 25h1M473 69h1M497 28h1M482 42h1M454 54h1M488 38h1M479 67h1M483 40h1M475 72h1M476 23h1M482 22h1M479 41h1M473 27h1M463 40h1M480 36h1M468 49h1M485 35h1M475 113h1M470 51h1M467 41h1M470 49h1M472 52h1M482 40h1M485 45h1M484 58h1M481 46h1M489 28h1M490 23h1M474 22h1M503 103h1M489 25h1M486 75h1M472 51h1M422 36h1M418 74h1M482 28h1M469 43h1M483 30h1M463 24h1M478 35h1M470 50h1M480 39h1M490 30h1M469 49h1M476 62h1M482 85h1M497 23h1M471 32h1M480 31h1M483 88h1M459 45h1M466 24h1M461 38h1M495 31h1M475 52h1M476 29h1M476 31h1M484 33h1M488 54h1M476 45h1M496 39h1M489 39h1M484 26h1M477 77h1M466 22h1M484 43h1M475 46h1M482 73h1M513 39h1M489 24h1M491 27h1M470 60h1M463 55h1M472 22h1M482 23h1M476 46h1M480 50h1M486 58h1M479 37h1M496 37h1M476 51h1M481 38h1M493 42h1M487 44h1M481 24h1M486 35h1M475 38h1M473 35h1M461 30h1M480 33h1M482 36h1M485 53h1M486 24h1M447 39h1M446 24h1M483 51h1M482 29h1M477 45h1M480 28h1M467 22h1M478 22h1M493 25h1M472 39h1M469 66h1M460 32h1M481 33h1M473 58h1M486 30h1M479 40h1M488 49h1M469 22h1M485 30h1M473 28h1M480 41h1M469 59h1M471 61h1M501 22h1M480 57h1M488 53h1M460 47h1M504 37h1M501 56h1M470 93h1M482 37h1M488 62h1M488 27h1M487 59h1M479 92h1M476 42h1M473 85h1M488 34h1M491 37h1M476 36h1M471 40h1M507 41h1M502 46h1M487 26h1M492 31h1M469 53h1M476 26h1M460 56h1M485 39h1M461 23h1M478 39h1M459 53h1M472 28h1M511 31h1M477 31h1M484 40h1M465 43h1M493 32h1M484 83h1M477 33h1M486 29h1M475 32h1M467 37h1M489 49h1M470 94h1M464 22h1M495 41h1M472 29h1M481 41h1M494 39h1M474 45h1M460 26h1M465 55h1M454 46h1M448 53h1M479 48h1M467 66h1M478 43h1M492 63h1M466 40h1M486 62h1M481 30h1M507 22h1M483 31h1M513 47h1M496 58h1M471 44h1M464 47h1M488 61h1M507 51h1M484 54h1M468 29h1M454 30h1M513 66h1M486 46h1M485 65h1M465 32h1M491 34h1M498 42h1M483 33h1M505 60h1M478 68h1M490 32h1M473 68h1M498 23h1M495 53h1M493 31h1M493 63h1M449 43h1M403 52h1M418 41h1M376 98h1M426 75h1M420 26h1M436 55h1M383 117h1M433 91h1M441 84h1M381 137h1M447 141h1M433 123h1M439 126h1M424 119h1M431 135h1M424 139h1M433 124h1M423 137h1M404 126h1M402 140h1M448 129h1M402 123h1M392 120h1M394 136h1M432 133h1M435 133h1M439 141h1M406 127h1M436 131h1M381 135h1M412 131h1M379 136h1M380 125h1M420 136h1M457 129h1M445 117h1M441 119h1M408 128h1M413 125h1M448 140h1M385 121h1M437 115h1M448 125h1M409 122h1M454 136h1M383 141h1M430 132h1M451 116h1M413 133h1M405 130h1M439 135h1M455 139h1M438 138h1M381 125h1M375 139h1M414 130h1M380 116h1M381 129h1M448 141h1M404 139h1M449 122h1M389 130h1M439 129h1M433 142h1M390 134h1M420 115h1M434 122h1M425 119h1M472 160h1M442 161h1M459 172h1M464 159h1M436 139h1M452 152h1M472 172h1M444 162h1M436 133h1M446 160h1M442 137h1M434 135h1M460 163h1M449 164h1M467 173h1M434 141h1M443 125h1M438 143h1M438 163h1M454 140h1M442 122h1M455 163h1M437 170h1M457 171h1M423 138h1M453 145h1M459 167h1M451 168h1M467 150h1M443 164h1M426 97h1M452 170h1M452 169h1M453 167h1M472 167h1M446 136h1M428 156h1M458 159h1M462 142h1M455 166h1M453 173h1M431 136h1M436 149h1M469 129h1M461 156h1M447 154h1M443 142h1M440 140h1M438 146h1M458 147h1M452 154h1M433 167h1M452 159h1M426 142h1M433 126h1M435 130h1M436 161h1M443 162h1M427 167h1M446 167h1M442 150h1M428 171h1M428 126h1M463 129h1M458 171h1M474 127h1M441 148h1M460 159h1M458 163h1M454 146h1M443 169h1M431 165h1M456 170h1M446 159h1M424 136h1M449 165h1M457 168h1M454 167h1M455 141h1M426 139h1M455 167h1M424 163h1M439 163h1M444 166h1M459 163h1M446 173h1M444 160h1M457 169h1M456 160h1M424 154h1M453 163h1M499 169h1M499 43h1M476 92h1M506 93h1M510 155h1M499 70h1M508 111h1M476 100h1M484 90h1M501 30h1M483 90h1M477 86h1M483 110h1M485 90h1M485 44h1M492 49h1M496 115h1M484 137h1M499 134h1M500 143h1M500 40h1M484 150h1M505 80h1M489 51h1M485 114h1M495 158h1M489 151h1M481 147h1M489 117h1" stroke="#1a1a1a" stroke-width="1" shape-rendering="crispEdges" fill="none" transform="translate(0,0.5)"/><rect x="370.5" y="20.8" width="144.8" height="154.7" fill="none" stroke="#000" stroke-width="1"/><path d="M448.4 20.8V175.5M370.5 117.5H515.3" stroke="#000" stroke-width="1" fill="none"/><path d="M370.50 175.5v3M370.5 175.50h-3M381.40 175.5v1.6M370.5 163.86h-1.6M387.77 175.5v1.6M370.5 157.05h-1.6M392.29 175.5v1.6M370.5 152.22h-1.6M395.80 175.5v1.6M370.5 148.47h-1.6M398.67 175.5v1.6M370.5 145.41h-1.6M401.09 175.5v1.6M370.5 142.82h-1.6M403.19 175.5v1.6M370.5 140.57h-1.6M405.04 175.5v1.6M370.5 138.59h-1.6M406.70 175.5v3M370.5 136.82h-3M417.60 175.5v1.6M370.5 125.18h-1.6M423.97 175.5v1.6M370.5 118.37h-1.6M428.49 175.5v1.6M370.5 113.54h-1.6M432.00 175.5v1.6M370.5 109.79h-1.6M434.87 175.5v1.6M370.5 106.73h-1.6M437.29 175.5v1.6M370.5 104.14h-1.6M439.39 175.5v1.6M370.5 101.90h-1.6M441.24 175.5v1.6M370.5 99.92h-1.6M442.90 175.5v3M370.5 98.15h-3M453.80 175.5v1.6M370.5 86.51h-1.6M460.17 175.5v1.6M370.5 79.70h-1.6M464.69 175.5v1.6M370.5 74.87h-1.6M468.20 175.5v1.6M370.5 71.12h-1.6M471.07 175.5v1.6M370.5 68.06h-1.6M473.49 175.5v1.6M370.5 65.47h-1.6M475.59 175.5v1.6M370.5 63.22h-1.6M477.44 175.5v1.6M370.5 61.24h-1.6M479.10 175.5v3M370.5 59.48h-3M490.00 175.5v1.6M370.5 47.83h-1.6M496.37 175.5v1.6M370.5 41.02h-1.6M500.89 175.5v1.6M370.5 36.19h-1.6M504.40 175.5v1.6M370.5 32.44h-1.6M507.27 175.5v1.6M370.5 29.38h-1.6M509.69 175.5v1.6M370.5 26.79h-1.6M511.79 175.5v1.6M370.5 24.55h-1.6M513.64 175.5v1.6M370.5 22.57h-1.6M515.30 175.5v3M370.5 20.80h-3" stroke="#000" stroke-width="0.7" fill="none"/><text class="t" x="365.4" y="185.3" textLength="5.6" lengthAdjust="spacingAndGlyphs" style="font-size:7.2px">10</text><text class="t" x="371.3" y="182.1" textLength="3.6" lengthAdjust="spacingAndGlyphs" style="font-size:6.8px">0</text><g transform="translate(364.7,175.5) rotate(-90)"><text class="t" x="-4.8" y="0" textLength="5.9" lengthAdjust="spacingAndGlyphs" style="font-size:7.4px">10</text><text class="t" x="2.4" y="-3.5" textLength="3.4" lengthAdjust="spacingAndGlyphs" style="font-size:7px">0</text></g><text class="t" x="401.6" y="185.3" textLength="5.6" lengthAdjust="spacingAndGlyphs" style="font-size:7.2px">10</text><text class="t" x="407.5" y="182.1" textLength="3.6" lengthAdjust="spacingAndGlyphs" style="font-size:6.8px">1</text><g transform="translate(364.7,136.8) rotate(-90)"><text class="t" x="-4.8" y="0" textLength="5.9" lengthAdjust="spacingAndGlyphs" style="font-size:7.4px">10</text><text class="t" x="2.4" y="-3.5" textLength="3.4" lengthAdjust="spacingAndGlyphs" style="font-size:7px">1</text></g><text class="t" x="437.8" y="185.3" textLength="5.6" lengthAdjust="spacingAndGlyphs" style="font-size:7.2px">10</text><text class="t" x="443.7" y="182.1" textLength="3.6" lengthAdjust="spacingAndGlyphs" style="font-size:6.8px">2</text><g transform="translate(364.7,98.2) rotate(-90)"><text class="t" x="-4.8" y="0" textLength="5.9" lengthAdjust="spacingAndGlyphs" style="font-size:7.4px">10</text><text class="t" x="2.4" y="-3.5" textLength="3.4" lengthAdjust="spacingAndGlyphs" style="font-size:7px">2</text></g><text class="t" x="474.0" y="185.3" textLength="5.6" lengthAdjust="spacingAndGlyphs" style="font-size:7.2px">10</text><text class="t" x="479.9" y="182.1" textLength="3.6" lengthAdjust="spacingAndGlyphs" style="font-size:6.8px">3</text><g transform="translate(364.7,59.5) rotate(-90)"><text class="t" x="-4.8" y="0" textLength="5.9" lengthAdjust="spacingAndGlyphs" style="font-size:7.4px">10</text><text class="t" x="2.4" y="-3.5" textLength="3.4" lengthAdjust="spacingAndGlyphs" style="font-size:7px">3</text></g><text class="t" x="510.2" y="185.3" textLength="5.6" lengthAdjust="spacingAndGlyphs" style="font-size:7.2px">10</text><text class="t" x="516.1" y="182.1" textLength="3.6" lengthAdjust="spacingAndGlyphs" style="font-size:6.8px">4</text><g transform="translate(364.7,20.8) rotate(-90)"><text class="t" x="-4.8" y="0" textLength="5.9" lengthAdjust="spacingAndGlyphs" style="font-size:7.4px">10</text><text class="t" x="2.4" y="-3.5" textLength="3.4" lengthAdjust="spacingAndGlyphs" style="font-size:7px">4</text></g><ellipse cx="98.2" cy="129.1" rx="14.6" ry="10.8" fill="#fff" stroke="#000" stroke-width="1.1"/><text x="98.2" y="134.3" font-size="18.3" text-anchor="middle" stroke="#000" stroke-width="0.3">57</text><ellipse cx="165.9" cy="76.4" rx="14.75" ry="10.95" fill="#fff" stroke="#000" stroke-width="1.1"/><text x="165.9" y="81.6" font-size="18.3" text-anchor="middle" stroke="#000" stroke-width="0.3">19</text><ellipse cx="165.9" cy="147.7" rx="14.6" ry="10.5" fill="#fff" stroke="#000" stroke-width="1.1"/><text x="165.9" y="152.9" font-size="18.3" text-anchor="middle" stroke="#000" stroke-width="0.3">24</text><ellipse cx="266.2" cy="129.7" rx="14.5" ry="10.8" fill="#fff" stroke="#000" stroke-width="1.1"/><text x="266.2" y="134.9" font-size="18.3" text-anchor="middle" stroke="#000" stroke-width="0.3">54</text><ellipse cx="332.6" cy="75.1" rx="14.1" ry="10.4" fill="#fff" stroke="#000" stroke-width="1.1"/><text x="332.6" y="80.3" font-size="18.3" text-anchor="middle" stroke="#000" stroke-width="0.3">18</text><ellipse cx="333.1" cy="147.6" rx="14.4" ry="10.7" fill="#fff" stroke="#000" stroke-width="1.1"/><text x="333.1" y="152.8" font-size="18.3" text-anchor="middle" stroke="#000" stroke-width="0.3">28</text><ellipse cx="431" cy="130.5" rx="14.5" ry="10.5" fill="#fff" stroke="#000" stroke-width="1.1"/><text x="431" y="135.7" font-size="18.3" text-anchor="middle" stroke="#000" stroke-width="0.3">51</text><ellipse cx="500" cy="78.9" rx="14.4" ry="10.9" fill="#fff" stroke="#000" stroke-width="1.1"/><text x="500" y="84.1" font-size="18.3" text-anchor="middle" stroke="#000" stroke-width="0.3">27</text><ellipse cx="500.3" cy="147.9" rx="14.5" ry="10.4" fill="#fff" stroke="#000" stroke-width="1.1"/><text x="500.3" y="153.1" font-size="18.3" text-anchor="middle" stroke="#000" stroke-width="0.3">22</text><path d="M90.5 209.7V358.6H239.2V232.2M90.5 209.7H177.8" stroke="#000" stroke-width="1" fill="none"/><rect x="90.5" y="213.8" width="54.0277" height="20.2" fill="url(#h)" stroke="#000" stroke-width="1"/><path d="M144.528 223.9H147.303M147.303 220.4V227.4" stroke="#000" stroke-width="1" fill="none"/><path d="M86.5 224.3H90.5" stroke="#000" stroke-width="1.4"/><text x="86.6" y="226.5" font-size="10.7" text-anchor="end" stroke="#000" stroke-width="0.2">62<tspan font-weight="normal">µ</tspan>M</text><rect x="90.5" y="243.8" width="69.3933" height="20.2" fill="url(#h)" stroke="#000" stroke-width="1"/><path d="M159.893 253.9H161.876M161.876 250.4V257.4" stroke="#000" stroke-width="1" fill="none"/><path d="M86.5 254.3H90.5" stroke="#000" stroke-width="1.4"/><text x="86.6" y="256.5" font-size="10.7" text-anchor="end" stroke="#000" stroke-width="0.2">125<tspan font-weight="normal">µ</tspan>M</text><rect x="90.5" y="273.8" width="86.7417" height="20.2" fill="url(#h)" stroke="#000" stroke-width="1"/><path d="M86.5 284.3H90.5" stroke="#000" stroke-width="1.4"/><text x="86.6" y="286.5" font-size="10.7" text-anchor="end" stroke="#000" stroke-width="0.2">250<tspan font-weight="normal">µ</tspan>M</text><rect x="90.5" y="303.8" width="93.1853" height="20.2" fill="url(#h)" stroke="#000" stroke-width="1"/><path d="M86.5 314.3H90.5" stroke="#000" stroke-width="1.4"/><text x="86.6" y="316.5" font-size="10.7" text-anchor="end" stroke="#000" stroke-width="0.2">500<tspan font-weight="normal">µ</tspan>M</text><rect x="90.5" y="333.8" width="119.951" height="20.2" fill="url(#h)" stroke="#000" stroke-width="1"/><path d="M210.451 343.9H213.425M213.425 340.4V347.4" stroke="#000" stroke-width="1" fill="none"/><path d="M86.5 344.3H90.5" stroke="#000" stroke-width="1.4"/><text x="86.6" y="346.5" font-size="10.7" text-anchor="end" stroke="#000" stroke-width="0.2">1000<tspan font-weight="normal">µ</tspan>M</text><path d="M90.5 358.6v4" stroke="#000" stroke-width="1"/><text x="89.9" y="376.6" font-size="13.6" text-anchor="middle">0</text><path d="M140.067 358.6v4" stroke="#000" stroke-width="1"/><text x="139.8" y="376.6" font-size="13.6" text-anchor="middle">5</text><path d="M189.633 358.6v4" stroke="#000" stroke-width="1"/><text x="190.2" y="376.6" font-size="13.6" text-anchor="middle">10</text><path d="M239.2 358.6v4" stroke="#000" stroke-width="1"/><text x="241.2" y="376.6" font-size="13.6" text-anchor="middle">15</text><rect x="177.8" y="209.9" width="77.8" height="22.3" fill="#fff" stroke="#000" stroke-width="1"/><text x="184.7" y="222" font-size="13" textLength="58" lengthAdjust="spacingAndGlyphs">Adenosine</text><path d="M297 210.8V360H446V230.7M297 210.8H446.5" stroke="#000" stroke-width="1" fill="none"/><rect x="297" y="214.3" width="78.4733" height="16.6" fill="url(#h)" stroke="#000" stroke-width="1"/><path d="M293.3 223H297" stroke="#000" stroke-width="1.4"/><text x="290.8" y="225.2" font-size="10.7" text-anchor="end" stroke="#000" stroke-width="0.2">0.3<tspan font-weight="normal">µ</tspan>M</text><rect x="297" y="239.3" width="88.9033" height="16.6" fill="url(#h)" stroke="#000" stroke-width="1"/><path d="M385.903 247.6H389.181M389.181 244.1V251.1" stroke="#000" stroke-width="1" fill="none"/><path d="M293.3 248H297" stroke="#000" stroke-width="1.4"/><text x="290.8" y="250.2" font-size="10.7" text-anchor="end" stroke="#000" stroke-width="0.2">1.25<tspan font-weight="normal">µ</tspan>M</text><rect x="297" y="264.3" width="88.9033" height="16.6" fill="url(#h)" stroke="#000" stroke-width="1"/><path d="M385.903 272.6H392.062M392.062 269.1V276.1" stroke="#000" stroke-width="1" fill="none"/><path d="M293.3 273H297" stroke="#000" stroke-width="1.4"/><text x="290.8" y="275.2" font-size="10.7" text-anchor="end" stroke="#000" stroke-width="0.2">2.5<tspan font-weight="normal">µ</tspan>M</text><rect x="297" y="289.3" width="84.93" height="16.6" fill="url(#h)" stroke="#000" stroke-width="1"/><path d="M293.3 298H297" stroke="#000" stroke-width="1.4"/><text x="290.8" y="300.2" font-size="10.7" text-anchor="end" stroke="#000" stroke-width="0.2">5<tspan font-weight="normal">µ</tspan>M</text><rect x="297" y="314.3" width="84.93" height="16.6" fill="url(#h)" stroke="#000" stroke-width="1"/><path d="M293.3 323H297" stroke="#000" stroke-width="1.4"/><text x="290.8" y="325.2" font-size="10.7" text-anchor="end" stroke="#000" stroke-width="0.2">10<tspan font-weight="normal">µ</tspan>M</text><rect x="297" y="339.3" width="120.193" height="16.6" fill="url(#h)" stroke="#000" stroke-width="1"/><path d="M293.3 348H297" stroke="#000" stroke-width="1.4"/><text x="290.8" y="350.2" font-size="10.7" text-anchor="end" stroke="#000" stroke-width="0.2">50<tspan font-weight="normal">µ</tspan>M</text><path d="M297 360v4" stroke="#000" stroke-width="1"/><text x="297.6" y="377.7" font-size="13.6" text-anchor="middle">0</text><path d="M346.667 360v4" stroke="#000" stroke-width="1"/><text x="347.5" y="377.7" font-size="13.6" text-anchor="middle">5</text><path d="M396.333 360v4" stroke="#000" stroke-width="1"/><text x="397.8" y="377.7" font-size="13.6" text-anchor="middle">10</text><path d="M446 360v4" stroke="#000" stroke-width="1"/><text x="449.2" y="377.7" font-size="13.6" text-anchor="middle">15</text><rect x="387.3" y="212.5" width="77" height="18.2" fill="#fff" stroke="#000" stroke-width="1"/><text x="397" y="226.3" font-size="13" textLength="60" lengthAdjust="spacingAndGlyphs">CGS21680</text><text x="206.8" y="399.6" font-size="17.6" textLength="161.3" lengthAdjust="spacingAndGlyphs">% of induced cell loss</text></svg></body></html>
